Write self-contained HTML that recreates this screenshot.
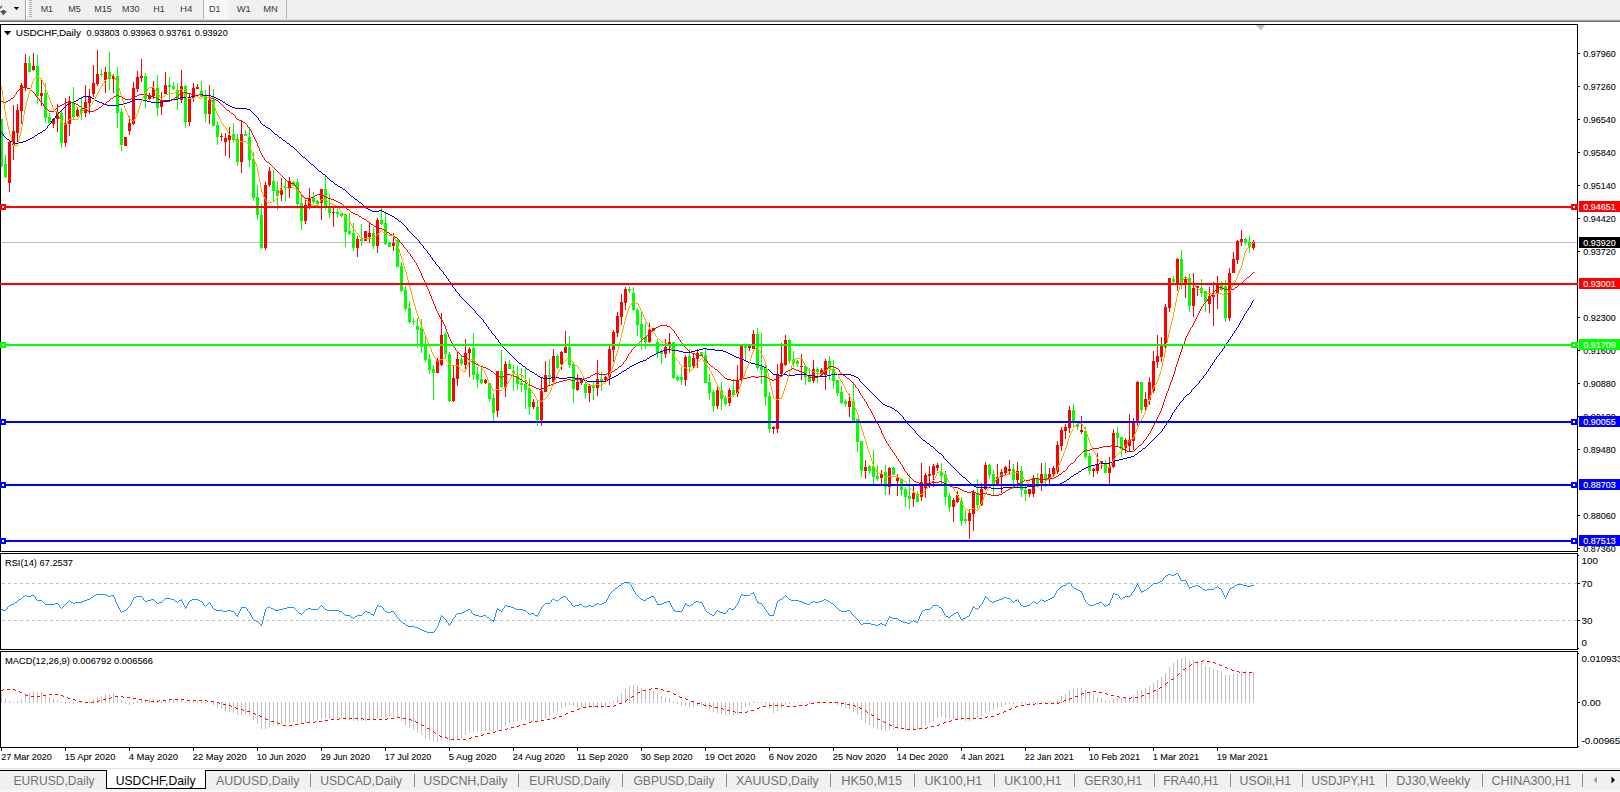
<!DOCTYPE html>
<html><head><meta charset="utf-8"><title>USDCHF,Daily</title>
<style>
html,body{margin:0;padding:0;}
body{width:1620px;height:792px;overflow:hidden;background:#f0f0f0;position:relative;font-family:"Liberation Sans",sans-serif;}
svg{position:absolute;left:0;top:0;}
text{font-family:"Liberation Sans",sans-serif;}
.tb{font-size:9.7px;fill:#3a3a3a;}
.ax{font-size:9.8px;fill:#000;stroke:#000;stroke-width:0.08px;}
.lbw{font-size:9.8px;fill:#fff;stroke:#fff;stroke-width:0.1px;}
.tab{font-size:12.2px;fill:#707070;}
.taba{font-size:12.2px;fill:#000;}
</style></head><body>
<svg width="1620" height="792" viewBox="0 0 1620 792" shape-rendering="crispEdges">

<rect x="0" y="0" width="1620" height="20" fill="#f0f0f0"/>
<rect x="0" y="19" width="1620" height="1" fill="#e2e2e2"/>
<rect x="0" y="20" width="1620" height="1" fill="#a4a4a4"/>
<rect x="0" y="21" width="1620" height="1" fill="#6c6c6c"/>
<rect x="0" y="22" width="1620" height="2" fill="#ffffff"/>
<rect x="25" y="0" width="1" height="20" fill="#a0a0a0"/>
<rect x="26" y="0" width="1" height="20" fill="#ffffff"/>
<rect x="29" y="0" width="3" height="1" fill="#b0b0b0"/>
<rect x="29" y="2" width="3" height="1" fill="#b0b0b0"/>
<rect x="29" y="4" width="3" height="1" fill="#b0b0b0"/>
<rect x="29" y="6" width="3" height="1" fill="#b0b0b0"/>
<rect x="29" y="8" width="3" height="1" fill="#b0b0b0"/>
<rect x="29" y="10" width="3" height="1" fill="#b0b0b0"/>
<rect x="29" y="12" width="3" height="1" fill="#b0b0b0"/>
<rect x="29" y="14" width="3" height="1" fill="#b0b0b0"/>
<rect x="29" y="16" width="3" height="1" fill="#b0b0b0"/>
<rect x="204" y="0" width="24" height="19" fill="#f7f7f7"/>
<rect x="203" y="0" width="1" height="19" fill="#b4b4b4"/>
<rect x="286" y="0" width="1" height="19" fill="#b4b4b4"/>
<path d="M13.8 7 L19.2 7 L16.5 10 Z" fill="#000" shape-rendering="geometricPrecision"/>
<path d="M0 11 L2 11 L2 10 L4.7 10 L4.7 11 L7 11 L3.4 15.2 Z" fill="#505050" shape-rendering="geometricPrecision"/><path d="M0 8.5 L2 5.8" stroke="#505050" stroke-width="1.2" shape-rendering="geometricPrecision"/>
<text class="tb" x="40.7" y="11.6" textLength="12.3" lengthAdjust="spacingAndGlyphs">M1</text>
<text class="tb" x="68.3" y="11.6" textLength="12.5" lengthAdjust="spacingAndGlyphs">M5</text>
<text class="tb" x="94.3" y="11.6" textLength="17.5" lengthAdjust="spacingAndGlyphs">M15</text>
<text class="tb" x="122" y="11.6" textLength="17.5" lengthAdjust="spacingAndGlyphs">M30</text>
<text class="tb" x="153.3" y="11.6" textLength="11.5" lengthAdjust="spacingAndGlyphs">H1</text>
<text class="tb" x="180" y="11.6" textLength="12.5" lengthAdjust="spacingAndGlyphs">H4</text>
<text class="tb" x="209" y="11.6" textLength="11.5" lengthAdjust="spacingAndGlyphs">D1</text>
<text class="tb" x="236.7" y="11.6" textLength="14.0" lengthAdjust="spacingAndGlyphs">W1</text>
<text class="tb" x="263.3" y="11.6" textLength="14.5" lengthAdjust="spacingAndGlyphs">MN</text>
<rect x="0" y="24" width="1620" height="745" fill="#ffffff"/>
<path d="M1256 25 L1265.4 25 L1260.7 30.2 Z" fill="#c0c0c0" shape-rendering="geometricPrecision"/>
<rect x="1" y="242" width="1576" height="1" fill="#c0c0c0"/>
<rect x="1" y="119" width="1" height="48" fill="#00ff00"/><rect x="0" y="119" width="3" height="47" fill="#00ff00"/>
<rect x="5" y="155" width="1" height="23" fill="#00ff00"/><rect x="4" y="164" width="3" height="13" fill="#00ff00"/>
<rect x="9" y="140" width="1" height="52" fill="#ff0000"/><rect x="8" y="142" width="3" height="41" fill="#ff0000"/>
<rect x="13" y="105" width="1" height="55" fill="#ff0000"/><rect x="12" y="131" width="3" height="14" fill="#ff0000"/>
<rect x="17" y="104" width="1" height="38" fill="#ff0000"/><rect x="16" y="110" width="3" height="23" fill="#ff0000"/>
<rect x="21" y="83" width="1" height="41" fill="#ff0000"/><rect x="20" y="85" width="3" height="26" fill="#ff0000"/>
<rect x="25" y="54" width="1" height="37" fill="#ff0000"/><rect x="24" y="63" width="3" height="24" fill="#ff0000"/>
<rect x="29" y="56" width="1" height="16" fill="#00ff00"/><rect x="28" y="63" width="3" height="9" fill="#00ff00"/>
<rect x="33" y="53" width="1" height="18" fill="#ff0000"/><rect x="32" y="66" width="3" height="4" fill="#ff0000"/>
<rect x="37" y="55" width="1" height="49" fill="#00ff00"/><rect x="36" y="66" width="3" height="30" fill="#00ff00"/>
<rect x="41" y="79" width="1" height="27" fill="#ff0000"/><rect x="40" y="93" width="3" height="3" fill="#ff0000"/>
<rect x="45" y="83" width="1" height="40" fill="#00ff00"/><rect x="44" y="93" width="3" height="25" fill="#00ff00"/>
<rect x="49" y="113" width="1" height="12" fill="#00ff00"/><rect x="48" y="117" width="3" height="6" fill="#00ff00"/>
<rect x="53" y="118" width="1" height="10" fill="#ff0000"/><rect x="52" y="119" width="3" height="5" fill="#ff0000"/>
<rect x="57" y="104" width="1" height="28" fill="#ff0000"/><rect x="56" y="112" width="3" height="7" fill="#ff0000"/>
<rect x="61" y="111" width="1" height="37" fill="#00ff00"/><rect x="60" y="113" width="3" height="30" fill="#00ff00"/>
<rect x="65" y="98" width="1" height="49" fill="#ff0000"/><rect x="64" y="123" width="3" height="20" fill="#ff0000"/>
<rect x="69" y="96" width="1" height="40" fill="#ff0000"/><rect x="68" y="101" width="3" height="23" fill="#ff0000"/>
<rect x="73" y="87" width="1" height="33" fill="#00ff00"/><rect x="72" y="103" width="3" height="14" fill="#00ff00"/>
<rect x="77" y="107" width="1" height="10" fill="#ff0000"/><rect x="76" y="110" width="3" height="6" fill="#ff0000"/>
<rect x="81" y="98" width="1" height="22" fill="#00ff00"/><rect x="80" y="109" width="3" height="4" fill="#00ff00"/>
<rect x="85" y="85" width="1" height="32" fill="#ff0000"/><rect x="84" y="102" width="3" height="11" fill="#ff0000"/>
<rect x="89" y="89" width="1" height="25" fill="#ff0000"/><rect x="88" y="96" width="3" height="7" fill="#ff0000"/>
<rect x="93" y="65" width="1" height="32" fill="#ff0000"/><rect x="92" y="83" width="3" height="11" fill="#ff0000"/>
<rect x="97" y="50" width="1" height="36" fill="#ff0000"/><rect x="96" y="74" width="3" height="10" fill="#ff0000"/>
<rect x="101" y="69" width="1" height="8" fill="#00ff00"/><rect x="100" y="74" width="3" height="1" fill="#00ff00"/>
<rect x="105" y="67" width="1" height="26" fill="#ff0000"/><rect x="104" y="72" width="3" height="8" fill="#ff0000"/>
<rect x="109" y="52" width="1" height="38" fill="#00ff00"/><rect x="108" y="72" width="3" height="7" fill="#00ff00"/>
<rect x="113" y="74" width="1" height="19" fill="#ff0000"/><rect x="112" y="76" width="3" height="3" fill="#ff0000"/>
<rect x="117" y="67" width="1" height="61" fill="#00ff00"/><rect x="116" y="76" width="3" height="37" fill="#00ff00"/>
<rect x="121" y="108" width="1" height="43" fill="#00ff00"/><rect x="120" y="112" width="3" height="33" fill="#00ff00"/>
<rect x="125" y="137" width="1" height="9" fill="#ff0000"/><rect x="124" y="137" width="3" height="9" fill="#ff0000"/>
<rect x="129" y="116" width="1" height="19" fill="#ff0000"/><rect x="128" y="123" width="3" height="8" fill="#ff0000"/>
<rect x="133" y="82" width="1" height="43" fill="#ff0000"/><rect x="132" y="88" width="3" height="36" fill="#ff0000"/>
<rect x="137" y="71" width="1" height="21" fill="#ff0000"/><rect x="136" y="77" width="3" height="12" fill="#ff0000"/>
<rect x="141" y="59" width="1" height="23" fill="#ff0000"/><rect x="140" y="76" width="3" height="2" fill="#ff0000"/>
<rect x="145" y="73" width="1" height="35" fill="#00ff00"/><rect x="144" y="76" width="3" height="23" fill="#00ff00"/>
<rect x="149" y="93" width="1" height="7" fill="#ff0000"/><rect x="148" y="95" width="3" height="4" fill="#ff0000"/>
<rect x="153" y="81" width="1" height="18" fill="#ff0000"/><rect x="152" y="88" width="3" height="8" fill="#ff0000"/>
<rect x="157" y="75" width="1" height="41" fill="#00ff00"/><rect x="156" y="88" width="3" height="20" fill="#00ff00"/>
<rect x="161" y="92" width="1" height="23" fill="#ff0000"/><rect x="160" y="100" width="3" height="7" fill="#ff0000"/>
<rect x="165" y="72" width="1" height="22" fill="#ff0000"/><rect x="164" y="85" width="3" height="9" fill="#ff0000"/>
<rect x="169" y="77" width="1" height="23" fill="#00ff00"/><rect x="168" y="85" width="3" height="2" fill="#00ff00"/>
<rect x="173" y="82" width="1" height="8" fill="#00ff00"/><rect x="172" y="86" width="3" height="3" fill="#00ff00"/>
<rect x="177" y="83" width="1" height="27" fill="#00ff00"/><rect x="176" y="90" width="3" height="9" fill="#00ff00"/>
<rect x="181" y="70" width="1" height="33" fill="#ff0000"/><rect x="180" y="86" width="3" height="14" fill="#ff0000"/>
<rect x="185" y="85" width="1" height="43" fill="#00ff00"/><rect x="184" y="86" width="3" height="36" fill="#00ff00"/>
<rect x="189" y="94" width="1" height="32" fill="#ff0000"/><rect x="188" y="98" width="3" height="24" fill="#ff0000"/>
<rect x="193" y="83" width="1" height="19" fill="#ff0000"/><rect x="192" y="88" width="3" height="10" fill="#ff0000"/>
<rect x="197" y="84" width="1" height="5" fill="#ff0000"/><rect x="196" y="87" width="3" height="2" fill="#ff0000"/>
<rect x="201" y="81" width="1" height="16" fill="#00ff00"/><rect x="200" y="91" width="3" height="6" fill="#00ff00"/>
<rect x="205" y="90" width="1" height="32" fill="#00ff00"/><rect x="204" y="96" width="3" height="18" fill="#00ff00"/>
<rect x="209" y="85" width="1" height="39" fill="#ff0000"/><rect x="208" y="100" width="3" height="14" fill="#ff0000"/>
<rect x="213" y="89" width="1" height="37" fill="#00ff00"/><rect x="212" y="100" width="3" height="26" fill="#00ff00"/>
<rect x="217" y="121" width="1" height="24" fill="#00ff00"/><rect x="216" y="125" width="3" height="12" fill="#00ff00"/>
<rect x="221" y="133" width="1" height="8" fill="#ff0000"/><rect x="220" y="136" width="3" height="1" fill="#ff0000"/>
<rect x="225" y="133" width="1" height="23" fill="#ff0000"/><rect x="224" y="138" width="3" height="4" fill="#ff0000"/>
<rect x="229" y="127" width="1" height="31" fill="#ff0000"/><rect x="228" y="135" width="3" height="5" fill="#ff0000"/>
<rect x="233" y="123" width="1" height="20" fill="#00ff00"/><rect x="232" y="134" width="3" height="6" fill="#00ff00"/>
<rect x="237" y="134" width="1" height="32" fill="#00ff00"/><rect x="236" y="139" width="3" height="23" fill="#00ff00"/>
<rect x="241" y="121" width="1" height="52" fill="#ff0000"/><rect x="240" y="134" width="3" height="28" fill="#ff0000"/>
<rect x="245" y="130" width="1" height="6" fill="#00ff00"/><rect x="244" y="134" width="3" height="2" fill="#00ff00"/>
<rect x="249" y="127" width="1" height="40" fill="#00ff00"/><rect x="248" y="137" width="3" height="23" fill="#00ff00"/>
<rect x="253" y="152" width="1" height="49" fill="#00ff00"/><rect x="252" y="159" width="3" height="39" fill="#00ff00"/>
<rect x="257" y="185" width="1" height="35" fill="#00ff00"/><rect x="256" y="197" width="3" height="18" fill="#00ff00"/>
<rect x="261" y="204" width="1" height="45" fill="#00ff00"/><rect x="260" y="215" width="3" height="33" fill="#00ff00"/>
<rect x="265" y="182" width="1" height="68" fill="#ff0000"/><rect x="264" y="185" width="3" height="63" fill="#ff0000"/>
<rect x="269" y="167" width="1" height="20" fill="#ff0000"/><rect x="268" y="171" width="3" height="14" fill="#ff0000"/>
<rect x="273" y="170" width="1" height="32" fill="#00ff00"/><rect x="272" y="181" width="3" height="10" fill="#00ff00"/>
<rect x="277" y="181" width="1" height="29" fill="#00ff00"/><rect x="276" y="190" width="3" height="6" fill="#00ff00"/>
<rect x="281" y="178" width="1" height="23" fill="#ff0000"/><rect x="280" y="190" width="3" height="5" fill="#ff0000"/>
<rect x="285" y="180" width="1" height="21" fill="#00ff00"/><rect x="284" y="187" width="3" height="1" fill="#00ff00"/>
<rect x="289" y="177" width="1" height="21" fill="#ff0000"/><rect x="288" y="181" width="3" height="7" fill="#ff0000"/>
<rect x="293" y="181" width="1" height="5" fill="#00ff00"/><rect x="292" y="182" width="3" height="4" fill="#00ff00"/>
<rect x="297" y="179" width="1" height="30" fill="#00ff00"/><rect x="296" y="182" width="3" height="22" fill="#00ff00"/>
<rect x="301" y="196" width="1" height="34" fill="#00ff00"/><rect x="300" y="203" width="3" height="18" fill="#00ff00"/>
<rect x="305" y="199" width="1" height="25" fill="#ff0000"/><rect x="304" y="205" width="3" height="16" fill="#ff0000"/>
<rect x="309" y="188" width="1" height="21" fill="#ff0000"/><rect x="308" y="198" width="3" height="9" fill="#ff0000"/>
<rect x="313" y="192" width="1" height="12" fill="#00ff00"/><rect x="312" y="198" width="3" height="4" fill="#00ff00"/>
<rect x="317" y="200" width="1" height="5" fill="#00ff00"/><rect x="316" y="201" width="3" height="3" fill="#00ff00"/>
<rect x="321" y="189" width="1" height="31" fill="#ff0000"/><rect x="320" y="189" width="3" height="14" fill="#ff0000"/>
<rect x="325" y="176" width="1" height="34" fill="#00ff00"/><rect x="324" y="189" width="3" height="17" fill="#00ff00"/>
<rect x="329" y="194" width="1" height="24" fill="#00ff00"/><rect x="328" y="207" width="3" height="6" fill="#00ff00"/>
<rect x="333" y="208" width="1" height="19" fill="#ff0000"/><rect x="332" y="212" width="3" height="1" fill="#ff0000"/>
<rect x="337" y="208" width="1" height="10" fill="#00ff00"/><rect x="336" y="212" width="3" height="2" fill="#00ff00"/>
<rect x="341" y="213" width="1" height="4" fill="#00ff00"/><rect x="340" y="213" width="3" height="3" fill="#00ff00"/>
<rect x="345" y="214" width="1" height="33" fill="#00ff00"/><rect x="344" y="214" width="3" height="18" fill="#00ff00"/>
<rect x="349" y="213" width="1" height="22" fill="#00ff00"/><rect x="348" y="231" width="3" height="3" fill="#00ff00"/>
<rect x="353" y="223" width="1" height="28" fill="#00ff00"/><rect x="352" y="233" width="3" height="15" fill="#00ff00"/>
<rect x="357" y="236" width="1" height="21" fill="#ff0000"/><rect x="356" y="239" width="3" height="9" fill="#ff0000"/>
<rect x="361" y="224" width="1" height="22" fill="#00ff00"/><rect x="360" y="239" width="3" height="2" fill="#00ff00"/>
<rect x="365" y="231" width="1" height="10" fill="#ff0000"/><rect x="364" y="231" width="3" height="10" fill="#ff0000"/>
<rect x="369" y="222" width="1" height="21" fill="#ff0000"/><rect x="368" y="233" width="3" height="4" fill="#ff0000"/>
<rect x="373" y="227" width="1" height="22" fill="#00ff00"/><rect x="372" y="233" width="3" height="13" fill="#00ff00"/>
<rect x="377" y="218" width="1" height="35" fill="#ff0000"/><rect x="376" y="220" width="3" height="26" fill="#ff0000"/>
<rect x="381" y="208" width="1" height="17" fill="#00ff00"/><rect x="380" y="220" width="3" height="4" fill="#00ff00"/>
<rect x="385" y="212" width="1" height="33" fill="#00ff00"/><rect x="384" y="223" width="3" height="21" fill="#00ff00"/>
<rect x="389" y="242" width="1" height="5" fill="#00ff00"/><rect x="388" y="242" width="3" height="5" fill="#00ff00"/>
<rect x="393" y="233" width="1" height="18" fill="#ff0000"/><rect x="392" y="243" width="3" height="3" fill="#ff0000"/>
<rect x="397" y="238" width="1" height="29" fill="#00ff00"/><rect x="396" y="240" width="3" height="27" fill="#00ff00"/>
<rect x="401" y="262" width="1" height="30" fill="#00ff00"/><rect x="400" y="266" width="3" height="25" fill="#00ff00"/>
<rect x="405" y="286" width="1" height="25" fill="#00ff00"/><rect x="404" y="290" width="3" height="19" fill="#00ff00"/>
<rect x="409" y="301" width="1" height="23" fill="#00ff00"/><rect x="408" y="308" width="3" height="14" fill="#00ff00"/>
<rect x="413" y="318" width="1" height="7" fill="#00ff00"/><rect x="412" y="321" width="3" height="1" fill="#00ff00"/>
<rect x="417" y="318" width="1" height="30" fill="#00ff00"/><rect x="416" y="326" width="3" height="4" fill="#00ff00"/>
<rect x="421" y="319" width="1" height="34" fill="#00ff00"/><rect x="420" y="328" width="3" height="19" fill="#00ff00"/>
<rect x="425" y="337" width="1" height="25" fill="#00ff00"/><rect x="424" y="345" width="3" height="15" fill="#00ff00"/>
<rect x="429" y="354" width="1" height="20" fill="#00ff00"/><rect x="428" y="359" width="3" height="11" fill="#00ff00"/>
<rect x="433" y="365" width="1" height="35" fill="#00ff00"/><rect x="432" y="369" width="3" height="4" fill="#00ff00"/>
<rect x="437" y="358" width="1" height="15" fill="#ff0000"/><rect x="436" y="361" width="3" height="12" fill="#ff0000"/>
<rect x="441" y="313" width="1" height="53" fill="#ff0000"/><rect x="440" y="335" width="3" height="30" fill="#ff0000"/>
<rect x="445" y="332" width="1" height="26" fill="#00ff00"/><rect x="444" y="334" width="3" height="20" fill="#00ff00"/>
<rect x="449" y="352" width="1" height="50" fill="#00ff00"/><rect x="448" y="354" width="3" height="47" fill="#00ff00"/>
<rect x="453" y="366" width="1" height="36" fill="#ff0000"/><rect x="452" y="378" width="3" height="23" fill="#ff0000"/>
<rect x="457" y="352" width="1" height="34" fill="#ff0000"/><rect x="456" y="359" width="3" height="20" fill="#ff0000"/>
<rect x="461" y="355" width="1" height="11" fill="#00ff00"/><rect x="460" y="359" width="3" height="5" fill="#00ff00"/>
<rect x="465" y="339" width="1" height="30" fill="#ff0000"/><rect x="464" y="353" width="3" height="12" fill="#ff0000"/>
<rect x="469" y="347" width="1" height="30" fill="#ff0000"/><rect x="468" y="349" width="3" height="4" fill="#ff0000"/>
<rect x="473" y="333" width="1" height="47" fill="#00ff00"/><rect x="472" y="348" width="3" height="27" fill="#00ff00"/>
<rect x="477" y="367" width="1" height="21" fill="#00ff00"/><rect x="476" y="374" width="3" height="6" fill="#00ff00"/>
<rect x="481" y="368" width="1" height="16" fill="#00ff00"/><rect x="480" y="379" width="3" height="4" fill="#00ff00"/>
<rect x="485" y="379" width="1" height="5" fill="#ff0000"/><rect x="484" y="380" width="3" height="3" fill="#ff0000"/>
<rect x="489" y="383" width="1" height="19" fill="#00ff00"/><rect x="488" y="383" width="3" height="16" fill="#00ff00"/>
<rect x="493" y="393" width="1" height="28" fill="#00ff00"/><rect x="492" y="398" width="3" height="15" fill="#00ff00"/>
<rect x="497" y="371" width="1" height="46" fill="#ff0000"/><rect x="496" y="371" width="3" height="40" fill="#ff0000"/>
<rect x="501" y="350" width="1" height="38" fill="#00ff00"/><rect x="500" y="371" width="3" height="16" fill="#00ff00"/>
<rect x="505" y="361" width="1" height="36" fill="#ff0000"/><rect x="504" y="364" width="3" height="23" fill="#ff0000"/>
<rect x="509" y="360" width="1" height="9" fill="#00ff00"/><rect x="508" y="364" width="3" height="5" fill="#00ff00"/>
<rect x="513" y="365" width="1" height="26" fill="#00ff00"/><rect x="512" y="371" width="3" height="2" fill="#00ff00"/>
<rect x="517" y="366" width="1" height="24" fill="#00ff00"/><rect x="516" y="376" width="3" height="8" fill="#00ff00"/>
<rect x="521" y="368" width="1" height="24" fill="#00ff00"/><rect x="520" y="383" width="3" height="2" fill="#00ff00"/>
<rect x="525" y="368" width="1" height="41" fill="#00ff00"/><rect x="524" y="384" width="3" height="6" fill="#00ff00"/>
<rect x="529" y="378" width="1" height="37" fill="#00ff00"/><rect x="528" y="388" width="3" height="19" fill="#00ff00"/>
<rect x="533" y="399" width="1" height="10" fill="#ff0000"/><rect x="532" y="402" width="3" height="5" fill="#ff0000"/>
<rect x="537" y="401" width="1" height="25" fill="#00ff00"/><rect x="536" y="407" width="3" height="13" fill="#00ff00"/>
<rect x="541" y="378" width="1" height="48" fill="#ff0000"/><rect x="540" y="391" width="3" height="29" fill="#ff0000"/>
<rect x="545" y="361" width="1" height="31" fill="#ff0000"/><rect x="544" y="375" width="3" height="17" fill="#ff0000"/>
<rect x="549" y="359" width="1" height="27" fill="#00ff00"/><rect x="548" y="375" width="3" height="2" fill="#00ff00"/>
<rect x="553" y="349" width="1" height="34" fill="#ff0000"/><rect x="552" y="356" width="3" height="26" fill="#ff0000"/>
<rect x="557" y="354" width="1" height="15" fill="#00ff00"/><rect x="556" y="356" width="3" height="12" fill="#00ff00"/>
<rect x="561" y="351" width="1" height="19" fill="#ff0000"/><rect x="560" y="352" width="3" height="12" fill="#ff0000"/>
<rect x="565" y="331" width="1" height="22" fill="#ff0000"/><rect x="564" y="347" width="3" height="6" fill="#ff0000"/>
<rect x="569" y="336" width="1" height="32" fill="#00ff00"/><rect x="568" y="347" width="3" height="18" fill="#00ff00"/>
<rect x="573" y="362" width="1" height="41" fill="#00ff00"/><rect x="572" y="364" width="3" height="25" fill="#00ff00"/>
<rect x="577" y="374" width="1" height="17" fill="#ff0000"/><rect x="576" y="382" width="3" height="8" fill="#ff0000"/>
<rect x="581" y="378" width="1" height="7" fill="#ff0000"/><rect x="580" y="379" width="3" height="4" fill="#ff0000"/>
<rect x="585" y="382" width="1" height="17" fill="#00ff00"/><rect x="584" y="384" width="3" height="9" fill="#00ff00"/>
<rect x="589" y="384" width="1" height="18" fill="#ff0000"/><rect x="588" y="386" width="3" height="7" fill="#ff0000"/>
<rect x="593" y="382" width="1" height="18" fill="#00ff00"/><rect x="592" y="386" width="3" height="2" fill="#00ff00"/>
<rect x="597" y="360" width="1" height="36" fill="#ff0000"/><rect x="596" y="379" width="3" height="9" fill="#ff0000"/>
<rect x="601" y="372" width="1" height="19" fill="#00ff00"/><rect x="600" y="379" width="3" height="3" fill="#00ff00"/>
<rect x="605" y="376" width="1" height="7" fill="#ff0000"/><rect x="604" y="377" width="3" height="3" fill="#ff0000"/>
<rect x="609" y="346" width="1" height="39" fill="#ff0000"/><rect x="608" y="349" width="3" height="28" fill="#ff0000"/>
<rect x="613" y="330" width="1" height="32" fill="#ff0000"/><rect x="612" y="332" width="3" height="18" fill="#ff0000"/>
<rect x="617" y="312" width="1" height="25" fill="#ff0000"/><rect x="616" y="316" width="3" height="17" fill="#ff0000"/>
<rect x="621" y="294" width="1" height="31" fill="#ff0000"/><rect x="620" y="302" width="3" height="15" fill="#ff0000"/>
<rect x="625" y="287" width="1" height="23" fill="#ff0000"/><rect x="624" y="289" width="3" height="14" fill="#ff0000"/>
<rect x="629" y="287" width="1" height="6" fill="#00ff00"/><rect x="628" y="289" width="3" height="2" fill="#00ff00"/>
<rect x="633" y="287" width="1" height="24" fill="#00ff00"/><rect x="632" y="293" width="3" height="17" fill="#00ff00"/>
<rect x="637" y="308" width="1" height="28" fill="#00ff00"/><rect x="636" y="310" width="3" height="15" fill="#00ff00"/>
<rect x="641" y="312" width="1" height="38" fill="#00ff00"/><rect x="640" y="324" width="3" height="14" fill="#00ff00"/>
<rect x="645" y="322" width="1" height="27" fill="#00ff00"/><rect x="644" y="337" width="3" height="5" fill="#00ff00"/>
<rect x="649" y="323" width="1" height="20" fill="#ff0000"/><rect x="648" y="330" width="3" height="12" fill="#ff0000"/>
<rect x="653" y="328" width="1" height="3" fill="#ff0000"/><rect x="652" y="328" width="3" height="3" fill="#ff0000"/>
<rect x="657" y="339" width="1" height="19" fill="#00ff00"/><rect x="656" y="342" width="3" height="11" fill="#00ff00"/>
<rect x="661" y="349" width="1" height="15" fill="#00ff00"/><rect x="660" y="352" width="3" height="2" fill="#00ff00"/>
<rect x="665" y="339" width="1" height="19" fill="#ff0000"/><rect x="664" y="347" width="3" height="7" fill="#ff0000"/>
<rect x="669" y="333" width="1" height="20" fill="#ff0000"/><rect x="668" y="342" width="3" height="4" fill="#ff0000"/>
<rect x="673" y="342" width="1" height="37" fill="#00ff00"/><rect x="672" y="342" width="3" height="36" fill="#00ff00"/>
<rect x="677" y="375" width="1" height="6" fill="#00ff00"/><rect x="676" y="377" width="3" height="3" fill="#00ff00"/>
<rect x="681" y="367" width="1" height="18" fill="#00ff00"/><rect x="680" y="377" width="3" height="3" fill="#00ff00"/>
<rect x="685" y="355" width="1" height="31" fill="#ff0000"/><rect x="684" y="357" width="3" height="23" fill="#ff0000"/>
<rect x="689" y="349" width="1" height="24" fill="#00ff00"/><rect x="688" y="356" width="3" height="11" fill="#00ff00"/>
<rect x="693" y="353" width="1" height="15" fill="#ff0000"/><rect x="692" y="358" width="3" height="8" fill="#ff0000"/>
<rect x="697" y="349" width="1" height="19" fill="#ff0000"/><rect x="696" y="353" width="3" height="6" fill="#ff0000"/>
<rect x="701" y="352" width="1" height="4" fill="#00ff00"/><rect x="700" y="352" width="3" height="4" fill="#00ff00"/>
<rect x="705" y="348" width="1" height="35" fill="#00ff00"/><rect x="704" y="355" width="3" height="28" fill="#00ff00"/>
<rect x="709" y="374" width="1" height="26" fill="#00ff00"/><rect x="708" y="382" width="3" height="11" fill="#00ff00"/>
<rect x="713" y="390" width="1" height="22" fill="#00ff00"/><rect x="712" y="392" width="3" height="14" fill="#00ff00"/>
<rect x="717" y="387" width="1" height="22" fill="#ff0000"/><rect x="716" y="390" width="3" height="16" fill="#ff0000"/>
<rect x="721" y="382" width="1" height="28" fill="#00ff00"/><rect x="720" y="390" width="3" height="9" fill="#00ff00"/>
<rect x="725" y="396" width="1" height="10" fill="#00ff00"/><rect x="724" y="398" width="3" height="6" fill="#00ff00"/>
<rect x="729" y="388" width="1" height="18" fill="#ff0000"/><rect x="728" y="390" width="3" height="13" fill="#ff0000"/>
<rect x="733" y="379" width="1" height="18" fill="#00ff00"/><rect x="732" y="390" width="3" height="5" fill="#00ff00"/>
<rect x="737" y="365" width="1" height="32" fill="#ff0000"/><rect x="736" y="380" width="3" height="14" fill="#ff0000"/>
<rect x="741" y="344" width="1" height="38" fill="#ff0000"/><rect x="740" y="344" width="3" height="36" fill="#ff0000"/>
<rect x="745" y="344" width="1" height="16" fill="#00ff00"/><rect x="744" y="344" width="3" height="4" fill="#00ff00"/>
<rect x="749" y="346" width="1" height="5" fill="#ff0000"/><rect x="748" y="346" width="3" height="2" fill="#ff0000"/>
<rect x="753" y="330" width="1" height="19" fill="#ff0000"/><rect x="752" y="334" width="3" height="15" fill="#ff0000"/>
<rect x="757" y="328" width="1" height="42" fill="#00ff00"/><rect x="756" y="334" width="3" height="34" fill="#00ff00"/>
<rect x="761" y="333" width="1" height="51" fill="#00ff00"/><rect x="760" y="367" width="3" height="3" fill="#00ff00"/>
<rect x="765" y="363" width="1" height="43" fill="#00ff00"/><rect x="764" y="368" width="3" height="29" fill="#00ff00"/>
<rect x="769" y="392" width="1" height="41" fill="#00ff00"/><rect x="768" y="396" width="3" height="33" fill="#00ff00"/>
<rect x="773" y="426" width="1" height="8" fill="#ff0000"/><rect x="772" y="427" width="3" height="2" fill="#ff0000"/>
<rect x="777" y="364" width="1" height="69" fill="#ff0000"/><rect x="776" y="374" width="3" height="55" fill="#ff0000"/>
<rect x="781" y="343" width="1" height="32" fill="#ff0000"/><rect x="780" y="363" width="3" height="11" fill="#ff0000"/>
<rect x="785" y="335" width="1" height="31" fill="#ff0000"/><rect x="784" y="340" width="3" height="25" fill="#ff0000"/>
<rect x="789" y="339" width="1" height="25" fill="#00ff00"/><rect x="788" y="340" width="3" height="21" fill="#00ff00"/>
<rect x="793" y="351" width="1" height="16" fill="#00ff00"/><rect x="792" y="360" width="3" height="3" fill="#00ff00"/>
<rect x="797" y="360" width="1" height="7" fill="#00ff00"/><rect x="796" y="361" width="3" height="3" fill="#00ff00"/>
<rect x="801" y="354" width="1" height="26" fill="#ff0000"/><rect x="800" y="366" width="3" height="1" fill="#ff0000"/>
<rect x="805" y="366" width="1" height="19" fill="#00ff00"/><rect x="804" y="366" width="3" height="11" fill="#00ff00"/>
<rect x="809" y="368" width="1" height="14" fill="#00ff00"/><rect x="808" y="376" width="3" height="6" fill="#00ff00"/>
<rect x="813" y="360" width="1" height="23" fill="#ff0000"/><rect x="812" y="369" width="3" height="12" fill="#ff0000"/>
<rect x="817" y="367" width="1" height="16" fill="#00ff00"/><rect x="816" y="369" width="3" height="3" fill="#00ff00"/>
<rect x="821" y="368" width="1" height="7" fill="#ff0000"/><rect x="820" y="370" width="3" height="4" fill="#ff0000"/>
<rect x="825" y="359" width="1" height="31" fill="#ff0000"/><rect x="824" y="361" width="3" height="14" fill="#ff0000"/>
<rect x="829" y="356" width="1" height="24" fill="#00ff00"/><rect x="828" y="361" width="3" height="8" fill="#00ff00"/>
<rect x="833" y="360" width="1" height="29" fill="#00ff00"/><rect x="832" y="369" width="3" height="12" fill="#00ff00"/>
<rect x="837" y="380" width="1" height="16" fill="#00ff00"/><rect x="836" y="380" width="3" height="13" fill="#00ff00"/>
<rect x="841" y="386" width="1" height="18" fill="#00ff00"/><rect x="840" y="392" width="3" height="11" fill="#00ff00"/>
<rect x="845" y="399" width="1" height="8" fill="#00ff00"/><rect x="844" y="401" width="3" height="3" fill="#00ff00"/>
<rect x="849" y="394" width="1" height="23" fill="#ff0000"/><rect x="848" y="401" width="3" height="6" fill="#ff0000"/>
<rect x="853" y="382" width="1" height="39" fill="#00ff00"/><rect x="852" y="401" width="3" height="20" fill="#00ff00"/>
<rect x="857" y="419" width="1" height="33" fill="#00ff00"/><rect x="856" y="419" width="3" height="23" fill="#00ff00"/>
<rect x="861" y="441" width="1" height="36" fill="#00ff00"/><rect x="860" y="441" width="3" height="30" fill="#00ff00"/>
<rect x="865" y="460" width="1" height="19" fill="#ff0000"/><rect x="864" y="467" width="3" height="4" fill="#ff0000"/>
<rect x="869" y="465" width="1" height="8" fill="#00ff00"/><rect x="868" y="466" width="3" height="5" fill="#00ff00"/>
<rect x="873" y="450" width="1" height="34" fill="#00ff00"/><rect x="872" y="466" width="3" height="11" fill="#00ff00"/>
<rect x="877" y="465" width="1" height="16" fill="#00ff00"/><rect x="876" y="476" width="3" height="3" fill="#00ff00"/>
<rect x="881" y="470" width="1" height="14" fill="#ff0000"/><rect x="880" y="474" width="3" height="4" fill="#ff0000"/>
<rect x="885" y="465" width="1" height="30" fill="#00ff00"/><rect x="884" y="472" width="3" height="15" fill="#00ff00"/>
<rect x="889" y="467" width="1" height="28" fill="#ff0000"/><rect x="888" y="468" width="3" height="19" fill="#ff0000"/>
<rect x="893" y="467" width="1" height="8" fill="#00ff00"/><rect x="892" y="468" width="3" height="7" fill="#00ff00"/>
<rect x="897" y="474" width="1" height="22" fill="#ff0000"/><rect x="896" y="478" width="3" height="3" fill="#ff0000"/>
<rect x="901" y="478" width="1" height="18" fill="#00ff00"/><rect x="900" y="479" width="3" height="11" fill="#00ff00"/>
<rect x="905" y="487" width="1" height="20" fill="#00ff00"/><rect x="904" y="489" width="3" height="8" fill="#00ff00"/>
<rect x="909" y="474" width="1" height="35" fill="#00ff00"/><rect x="908" y="496" width="3" height="3" fill="#00ff00"/>
<rect x="913" y="486" width="1" height="21" fill="#ff0000"/><rect x="912" y="493" width="3" height="6" fill="#ff0000"/>
<rect x="917" y="491" width="1" height="11" fill="#00ff00"/><rect x="916" y="494" width="3" height="8" fill="#00ff00"/>
<rect x="921" y="463" width="1" height="38" fill="#ff0000"/><rect x="920" y="482" width="3" height="15" fill="#ff0000"/>
<rect x="925" y="473" width="1" height="25" fill="#ff0000"/><rect x="924" y="475" width="3" height="13" fill="#ff0000"/>
<rect x="929" y="466" width="1" height="22" fill="#ff0000"/><rect x="928" y="474" width="3" height="2" fill="#ff0000"/>
<rect x="933" y="464" width="1" height="23" fill="#ff0000"/><rect x="932" y="466" width="3" height="9" fill="#ff0000"/>
<rect x="937" y="463" width="1" height="8" fill="#ff0000"/><rect x="936" y="465" width="3" height="3" fill="#ff0000"/>
<rect x="941" y="463" width="1" height="21" fill="#00ff00"/><rect x="940" y="472" width="3" height="4" fill="#00ff00"/>
<rect x="945" y="471" width="1" height="34" fill="#00ff00"/><rect x="944" y="475" width="3" height="22" fill="#00ff00"/>
<rect x="949" y="493" width="1" height="19" fill="#00ff00"/><rect x="948" y="496" width="3" height="11" fill="#00ff00"/>
<rect x="953" y="498" width="1" height="24" fill="#ff0000"/><rect x="952" y="500" width="3" height="7" fill="#ff0000"/>
<rect x="957" y="491" width="1" height="12" fill="#ff0000"/><rect x="956" y="495" width="3" height="7" fill="#ff0000"/>
<rect x="961" y="497" width="1" height="29" fill="#00ff00"/><rect x="960" y="501" width="3" height="20" fill="#00ff00"/>
<rect x="965" y="510" width="1" height="14" fill="#00ff00"/><rect x="964" y="519" width="3" height="2" fill="#00ff00"/>
<rect x="969" y="509" width="1" height="30" fill="#ff0000"/><rect x="968" y="513" width="3" height="8" fill="#ff0000"/>
<rect x="973" y="490" width="1" height="41" fill="#ff0000"/><rect x="972" y="492" width="3" height="22" fill="#ff0000"/>
<rect x="977" y="479" width="1" height="30" fill="#00ff00"/><rect x="976" y="493" width="3" height="12" fill="#00ff00"/>
<rect x="981" y="483" width="1" height="23" fill="#ff0000"/><rect x="980" y="489" width="3" height="16" fill="#ff0000"/>
<rect x="985" y="462" width="1" height="28" fill="#ff0000"/><rect x="984" y="465" width="3" height="24" fill="#ff0000"/>
<rect x="989" y="464" width="1" height="15" fill="#00ff00"/><rect x="988" y="465" width="3" height="10" fill="#00ff00"/>
<rect x="993" y="470" width="1" height="25" fill="#00ff00"/><rect x="992" y="474" width="3" height="10" fill="#00ff00"/>
<rect x="997" y="464" width="1" height="21" fill="#ff0000"/><rect x="996" y="477" width="3" height="7" fill="#ff0000"/>
<rect x="1001" y="469" width="1" height="24" fill="#ff0000"/><rect x="1000" y="472" width="3" height="5" fill="#ff0000"/>
<rect x="1005" y="466" width="1" height="10" fill="#ff0000"/><rect x="1004" y="467" width="3" height="6" fill="#ff0000"/>
<rect x="1009" y="460" width="1" height="14" fill="#ff0000"/><rect x="1008" y="469" width="3" height="2" fill="#ff0000"/>
<rect x="1013" y="464" width="1" height="25" fill="#00ff00"/><rect x="1012" y="469" width="3" height="11" fill="#00ff00"/>
<rect x="1017" y="462" width="1" height="25" fill="#ff0000"/><rect x="1016" y="471" width="3" height="9" fill="#ff0000"/>
<rect x="1021" y="466" width="1" height="31" fill="#00ff00"/><rect x="1020" y="471" width="3" height="19" fill="#00ff00"/>
<rect x="1025" y="486" width="1" height="15" fill="#00ff00"/><rect x="1024" y="490" width="3" height="4" fill="#00ff00"/>
<rect x="1029" y="489" width="1" height="8" fill="#ff0000"/><rect x="1028" y="489" width="3" height="5" fill="#ff0000"/>
<rect x="1033" y="475" width="1" height="22" fill="#ff0000"/><rect x="1032" y="478" width="3" height="16" fill="#ff0000"/>
<rect x="1037" y="473" width="1" height="15" fill="#00ff00"/><rect x="1036" y="479" width="3" height="8" fill="#00ff00"/>
<rect x="1041" y="463" width="1" height="28" fill="#ff0000"/><rect x="1040" y="474" width="3" height="9" fill="#ff0000"/>
<rect x="1045" y="463" width="1" height="24" fill="#00ff00"/><rect x="1044" y="474" width="3" height="5" fill="#00ff00"/>
<rect x="1049" y="468" width="1" height="16" fill="#ff0000"/><rect x="1048" y="474" width="3" height="4" fill="#ff0000"/>
<rect x="1053" y="466" width="1" height="10" fill="#ff0000"/><rect x="1052" y="468" width="3" height="6" fill="#ff0000"/>
<rect x="1057" y="441" width="1" height="33" fill="#ff0000"/><rect x="1056" y="445" width="3" height="27" fill="#ff0000"/>
<rect x="1061" y="427" width="1" height="24" fill="#ff0000"/><rect x="1060" y="430" width="3" height="16" fill="#ff0000"/>
<rect x="1065" y="424" width="1" height="15" fill="#ff0000"/><rect x="1064" y="427" width="3" height="4" fill="#ff0000"/>
<rect x="1069" y="406" width="1" height="27" fill="#ff0000"/><rect x="1068" y="410" width="3" height="18" fill="#ff0000"/>
<rect x="1073" y="404" width="1" height="23" fill="#00ff00"/><rect x="1072" y="410" width="3" height="13" fill="#00ff00"/>
<rect x="1077" y="423" width="1" height="7" fill="#00ff00"/><rect x="1076" y="424" width="3" height="3" fill="#00ff00"/>
<rect x="1081" y="416" width="1" height="18" fill="#ff0000"/><rect x="1080" y="430" width="3" height="2" fill="#ff0000"/>
<rect x="1085" y="427" width="1" height="32" fill="#00ff00"/><rect x="1084" y="431" width="3" height="26" fill="#00ff00"/>
<rect x="1089" y="453" width="1" height="22" fill="#00ff00"/><rect x="1088" y="456" width="3" height="15" fill="#00ff00"/>
<rect x="1093" y="468" width="1" height="9" fill="#ff0000"/><rect x="1092" y="469" width="3" height="2" fill="#ff0000"/>
<rect x="1097" y="453" width="1" height="21" fill="#ff0000"/><rect x="1096" y="464" width="3" height="7" fill="#ff0000"/>
<rect x="1101" y="461" width="1" height="8" fill="#ff0000"/><rect x="1100" y="461" width="3" height="2" fill="#ff0000"/>
<rect x="1105" y="460" width="1" height="13" fill="#00ff00"/><rect x="1104" y="464" width="3" height="9" fill="#00ff00"/>
<rect x="1109" y="457" width="1" height="27" fill="#ff0000"/><rect x="1108" y="467" width="3" height="6" fill="#ff0000"/>
<rect x="1113" y="429" width="1" height="39" fill="#ff0000"/><rect x="1112" y="433" width="3" height="34" fill="#ff0000"/>
<rect x="1117" y="427" width="1" height="19" fill="#00ff00"/><rect x="1116" y="433" width="3" height="5" fill="#00ff00"/>
<rect x="1121" y="437" width="1" height="20" fill="#00ff00"/><rect x="1120" y="437" width="3" height="12" fill="#00ff00"/>
<rect x="1125" y="438" width="1" height="15" fill="#ff0000"/><rect x="1124" y="440" width="3" height="8" fill="#ff0000"/>
<rect x="1129" y="414" width="1" height="37" fill="#ff0000"/><rect x="1128" y="440" width="3" height="6" fill="#ff0000"/>
<rect x="1133" y="418" width="1" height="32" fill="#ff0000"/><rect x="1132" y="423" width="3" height="18" fill="#ff0000"/>
<rect x="1137" y="381" width="1" height="45" fill="#ff0000"/><rect x="1136" y="382" width="3" height="41" fill="#ff0000"/>
<rect x="1141" y="382" width="1" height="31" fill="#00ff00"/><rect x="1140" y="382" width="3" height="28" fill="#00ff00"/>
<rect x="1145" y="392" width="1" height="18" fill="#ff0000"/><rect x="1144" y="399" width="3" height="8" fill="#ff0000"/>
<rect x="1149" y="377" width="1" height="28" fill="#ff0000"/><rect x="1148" y="382" width="3" height="18" fill="#ff0000"/>
<rect x="1153" y="351" width="1" height="42" fill="#ff0000"/><rect x="1152" y="361" width="3" height="30" fill="#ff0000"/>
<rect x="1157" y="335" width="1" height="33" fill="#ff0000"/><rect x="1156" y="356" width="3" height="6" fill="#ff0000"/>
<rect x="1161" y="337" width="1" height="25" fill="#ff0000"/><rect x="1160" y="346" width="3" height="11" fill="#ff0000"/>
<rect x="1165" y="304" width="1" height="44" fill="#ff0000"/><rect x="1164" y="307" width="3" height="40" fill="#ff0000"/>
<rect x="1169" y="278" width="1" height="34" fill="#ff0000"/><rect x="1168" y="278" width="3" height="30" fill="#ff0000"/>
<rect x="1173" y="276" width="1" height="7" fill="#00ff00"/><rect x="1172" y="279" width="3" height="3" fill="#00ff00"/>
<rect x="1177" y="258" width="1" height="33" fill="#ff0000"/><rect x="1176" y="259" width="3" height="26" fill="#ff0000"/>
<rect x="1181" y="250" width="1" height="39" fill="#00ff00"/><rect x="1180" y="259" width="3" height="24" fill="#00ff00"/>
<rect x="1185" y="277" width="1" height="21" fill="#ff0000"/><rect x="1184" y="279" width="3" height="4" fill="#ff0000"/>
<rect x="1189" y="274" width="1" height="38" fill="#00ff00"/><rect x="1188" y="278" width="3" height="28" fill="#00ff00"/>
<rect x="1193" y="273" width="1" height="44" fill="#ff0000"/><rect x="1192" y="288" width="3" height="18" fill="#ff0000"/>
<rect x="1197" y="286" width="1" height="10" fill="#ff0000"/><rect x="1196" y="286" width="3" height="2" fill="#ff0000"/>
<rect x="1201" y="279" width="1" height="18" fill="#00ff00"/><rect x="1200" y="288" width="3" height="5" fill="#00ff00"/>
<rect x="1205" y="291" width="1" height="21" fill="#00ff00"/><rect x="1204" y="291" width="3" height="11" fill="#00ff00"/>
<rect x="1209" y="287" width="1" height="26" fill="#ff0000"/><rect x="1208" y="296" width="3" height="8" fill="#ff0000"/>
<rect x="1213" y="282" width="1" height="44" fill="#ff0000"/><rect x="1212" y="294" width="3" height="3" fill="#ff0000"/>
<rect x="1217" y="276" width="1" height="33" fill="#ff0000"/><rect x="1216" y="283" width="3" height="10" fill="#ff0000"/>
<rect x="1221" y="281" width="1" height="10" fill="#00ff00"/><rect x="1220" y="285" width="3" height="5" fill="#00ff00"/>
<rect x="1225" y="280" width="1" height="42" fill="#00ff00"/><rect x="1224" y="286" width="3" height="32" fill="#00ff00"/>
<rect x="1229" y="268" width="1" height="53" fill="#ff0000"/><rect x="1228" y="273" width="3" height="45" fill="#ff0000"/>
<rect x="1233" y="252" width="1" height="21" fill="#ff0000"/><rect x="1232" y="259" width="3" height="14" fill="#ff0000"/>
<rect x="1237" y="240" width="1" height="24" fill="#ff0000"/><rect x="1236" y="241" width="3" height="19" fill="#ff0000"/>
<rect x="1241" y="230" width="1" height="16" fill="#ff0000"/><rect x="1240" y="239" width="3" height="3" fill="#ff0000"/>
<rect x="1245" y="238" width="1" height="7" fill="#00ff00"/><rect x="1244" y="239" width="3" height="4" fill="#00ff00"/>
<rect x="1249" y="236" width="1" height="17" fill="#00ff00"/><rect x="1248" y="242" width="3" height="5" fill="#00ff00"/>
<rect x="1253" y="240" width="1" height="10" fill="#ff0000"/><rect x="1252" y="242" width="3" height="6" fill="#ff0000"/>
<path d="M448.5 279v2M1219.5 353v2M1252.5 301v2M903.5 417v2M1248.5 308v2M495.5 336v2M435.5 262v2M446.5 276v2M450.5 282v2M260.5 121v2M1203.5 376v2M475.5 311v2M1164.5 426v2M55.5 116v2M1234.5 331v2M1230.5 337v2M452.5 285v2M859.5 379v2M1162.5 429v2M419.5 241v2M907.5 422v2M1244.5 314v2M1240.5 321v2M1208.5 369v2M943.5 456v2M491.5 331v2M1243.5 316v2M1191.5 390v2M432.5 258v2M1172.5 413v2M1239.5 323v2M1168.5 420v2M1238.5 325v2M47.5 126v2M423.5 246v2M1222.5 349v2M459.5 294v2M1212.5 363v2M1228.5 340v2M483.5 320v2M439.5 267v2M455.5 289v2M1236.5 328v2M1232.5 334v2M443.5 272v2M1226.5 343v2M1183.5 398v2M1246.5 311v2M430.5 255v2M1210.5 366v2M1242.5 318v2M1206.5 372v2M915.5 431v2M407.5 228v2M258.5 118v2M3.5 134v2M498.5 340v2M1251.5 303v2M500.5 343v2M1174.5 410v2M427.5 251v2M1166.5 423v2M488.5 327v2M1216.5 357v2M1176.5 407v2M1250.5 305v2M1199.5 381v2M1214.5 360v2M1171.5 415v2M1170.5 417v2M1224.5 346v2M486.5 324v2M1179.5 403v2M51.5 121v2M434 261.5h1M501 345.5h1M1225 345.5h1M959 473.5h1M1076 473.5h2M444 274.5h1M991 488.5h12M512 356.5h1M650 356.5h2M734 356.5h2M1217 356.5h1M71 102.5h3M99 102.5h3M127 102.5h3M151 102.5h12M223 102.5h2M15 143.5h4M287 143.5h2M37 134.5h1M275 134.5h2M508 352.5h1M658 352.5h2M683 352.5h8M726 352.5h2M1220 352.5h1M464 300.5h1M1253 300.5h1M348 193.5h1M58 113.5h1M253 113.5h1M526 368.5h1M627 368.5h2M766 368.5h1M1209 368.5h1M473 309.5h1M867 388.5h1M1193 388.5h1M76 100.5h2M95 100.5h2M132 100.5h3M143 100.5h4M167 100.5h4M220 100.5h2M519 363.5h2M636 363.5h2M751 363.5h4M53 119.5h1M587 381.5h19M860 381.5h1M471 307.5h1M1249 307.5h1M69 103.5h2M102 103.5h2M123 103.5h4M225 103.5h1M537 375.5h1M616 375.5h2M779 375.5h4M787 375.5h8M807 375.5h8M827 375.5h4M851 375.5h3M1204 375.5h1M538 376.5h2M614 376.5h2M815 376.5h12M854 376.5h2M78 99.5h1M94 99.5h1M135 99.5h8M171 99.5h7M218 99.5h2M873 394.5h1M1187 394.5h2M543 378.5h8M559 378.5h8M575 378.5h7M610 378.5h2M858 378.5h1M1202 378.5h1M195 95.5h4M203 95.5h8M510 354.5h1M654 354.5h2M730 354.5h2M532 372.5h2M621 372.5h1M771 372.5h1M869 390.5h1M535 374.5h2M618 374.5h1M773 374.5h6M783 374.5h4M795 374.5h12M831 374.5h20M1205 374.5h1M968 481.5h1M1064 481.5h2M81 97.5h2M90 97.5h2M180 97.5h11M214 97.5h2M65 106.5h1M230 106.5h2M415 237.5h1M976 487.5h15M1003 487.5h24M938 452.5h1M1138 452.5h1M63 108.5h1M235 108.5h12M973 485.5h1M1035 485.5h23M66 105.5h1M107 105.5h12M228 105.5h2M507 351.5h1M660 351.5h3M679 351.5h4M691 351.5h4M723 351.5h3M1221 351.5h1M966 479.5h1M1067 479.5h2M395 218.5h2M9 140.5h1M26 140.5h2M283 140.5h2M295 149.5h1M521 364.5h1M634 364.5h2M755 364.5h4M1161 431.5h1M265 126.5h1M266 127.5h2M79 98.5h2M92 98.5h2M178 98.5h2M216 98.5h2M947 461.5h1M1112 461.5h3M494 335.5h1M447 278.5h1M294 148.5h1M406 227.5h1M62 109.5h1M247 109.5h3M506 350.5h1M663 350.5h4M671 350.5h8M695 350.5h4M715 350.5h8M522 365.5h1M632 365.5h2M759 365.5h3M1211 365.5h1M527 369.5h2M626 369.5h1M767 369.5h2M941 454.5h1M1135 454.5h2M461 297.5h1M518 362.5h1M638 362.5h2M748 362.5h3M1213 362.5h1M43 130.5h2M271 130.5h1M505 349.5h1M667 349.5h4M699 349.5h4M707 349.5h8M2 133.5h1M38 133.5h2M274 133.5h1M484 322.5h1M338 186.5h2M513 357.5h1M649 357.5h1M736 357.5h3M1231 336.5h1M83 96.5h7M191 96.5h4M211 96.5h3M257 117.5h1M390 215.5h2M5 137.5h1M32 137.5h2M279 137.5h2M516 360.5h1M643 360.5h3M744 360.5h2M372 211.5h7M382 211.5h2M291 146.5h2M12 142.5h3M19 142.5h4M286 142.5h1M540 377.5h3M551 377.5h8M567 377.5h8M612 377.5h2M856 377.5h2M392 216.5h2M74 101.5h2M97 101.5h2M130 101.5h2M147 101.5h4M163 101.5h4M222 101.5h1M50 123.5h1M261 123.5h1M969 482.5h1M1062 482.5h2M384 212.5h2M424 248.5h1M476 313.5h1M1245 313.5h1M960 474.5h1M1074 474.5h2M425 249.5h1M504 348.5h1M703 348.5h4M1223 348.5h1M1131 456.5h3M368 209.5h2M934 448.5h1M1143 448.5h2M301 155.5h1M311 164.5h2M1 132.5h1M40 132.5h2M273 132.5h1M951 465.5h1M1091 465.5h4M290 145.5h1M313 165.5h1M523 366.5h2M630 366.5h2M762 366.5h2M871 392.5h1M1190 392.5h1M468 304.5h1M902 416.5h1M872 393.5h1M1189 393.5h1M949 463.5h1M1099 463.5h11M935 449.5h1M1142 449.5h1M945 459.5h1M1119 459.5h4M971 484.5h2M1058 484.5h2M962 476.5h1M1071 476.5h2M514 358.5h1M647 358.5h2M739 358.5h3M515 359.5h1M646 359.5h1M742 359.5h2M1215 359.5h1M334 183.5h1M10 141.5h2M23 141.5h3M285 141.5h1M67 104.5h2M104 104.5h3M119 104.5h4M226 104.5h2M925 441.5h1M1151 441.5h1M467 303.5h1M952 466.5h1M1088 466.5h3M409 231.5h1M901 415.5h1M946 460.5h1M1115 460.5h4M497 339.5h1M1229 339.5h1M307 160.5h1M408 230.5h1M912 428.5h1M1163 428.5h1M308 161.5h1M974 486.5h2M1027 486.5h8M917 434.5h1M1158 434.5h1M919 436.5h1M1156 436.5h1M930 445.5h1M1147 445.5h1M954 468.5h1M1084 468.5h2M4 136.5h1M34 136.5h1M278 136.5h1M359 202.5h2M438 266.5h1M496 338.5h1M52 120.5h1M259 120.5h1M401 222.5h1M45 129.5h1M270 129.5h1M330 180.5h1M6 138.5h1M30 138.5h2M281 138.5h1M7 139.5h2M28 139.5h2M282 139.5h1M911 427.5h1M437 265.5h1M478 315.5h1M492 333.5h1M1233 333.5h1M965 478.5h1M1069 478.5h1M956 470.5h1M1081 470.5h1M525 367.5h1M629 367.5h1M764 367.5h2M303 157.5h2M314 166.5h1M397 219.5h1M892 408.5h2M315 167.5h1M46 128.5h1M268 128.5h2M885 405.5h2M1178 405.5h1M477 314.5h1M456 291.5h1M874 395.5h1M1186 395.5h1M955 469.5h1M1082 469.5h2M926 442.5h1M1150 442.5h1M937 451.5h1M1139 451.5h2M355 199.5h2M582 379.5h2M608 379.5h2M1201 379.5h1M388 214.5h2M343 189.5h2M57 114.5h1M254 114.5h1M875 396.5h1M1185 396.5h1M35 135.5h2M277 135.5h1M469 305.5h1M370 210.5h2M379 210.5h3M470 306.5h1M922 439.5h1M1153 439.5h1M957 471.5h1M1079 471.5h2M366 208.5h2M410 232.5h1M904 419.5h1M1169 419.5h1M310 163.5h1M411 233.5h1M64 107.5h1M232 107.5h3M868 389.5h1M1192 389.5h1M939 453.5h2M1137 453.5h1M487 326.5h1M881 402.5h1M1180 402.5h1M921 438.5h1M1154 438.5h1M898 412.5h1M1173 412.5h1M350 195.5h1M509 353.5h1M656 353.5h2M728 353.5h2M584 380.5h3M606 380.5h2M1200 380.5h1M530 371.5h2M622 371.5h2M770 371.5h1M1207 371.5h1M402 223.5h1M351 196.5h2M454 288.5h1M1160 432.5h1M403 224.5h1M502 346.5h1M428 253.5h1M880 401.5h1M1181 401.5h1M862 383.5h1M1198 383.5h1M914 430.5h1M429 254.5h1M933 447.5h1M1145 447.5h1M417 239.5h1M1127 457.5h4M950 464.5h1M1095 464.5h4M948 462.5h1M1110 462.5h2M864 385.5h1M1196 385.5h1M534 373.5h1M619 373.5h2M772 373.5h1M418 240.5h1M861 382.5h1M913 429.5h1M918 435.5h1M1157 435.5h1M474 310.5h1M1247 310.5h1M958 472.5h1M1078 472.5h1M398 220.5h1M48 125.5h1M263 125.5h2M905 420.5h1M399 221.5h2M906 421.5h1M59 112.5h1M252 112.5h1M897 411.5h1M883 404.5h2M442 271.5h1M963 477.5h2M1070 477.5h1M293 147.5h1M305 158.5h1M866 387.5h1M1194 387.5h1M394 217.5h1M386 213.5h2M894 409.5h1M1175 409.5h1M882 403.5h1M441 270.5h1M326 176.5h1M256 116.5h1M199 94.5h4M337 185.5h1M300 154.5h1M289 144.5h1M511 355.5h1M652 355.5h2M732 355.5h2M1218 355.5h1M517 361.5h1M640 361.5h3M746 361.5h2M970 483.5h1M1060 483.5h2M322 173.5h1M333 182.5h1M899 413.5h1M466 302.5h1M900 414.5h1M909 425.5h1M1165 425.5h1M870 391.5h1M942 455.5h1M1134 455.5h1M362 204.5h1M363 205.5h1M480 317.5h1M317 169.5h1M306 159.5h1M421 244.5h1M318 170.5h1M458 293.5h1M329 179.5h1M895 410.5h2M422 245.5h1M877 398.5h1M927 443.5h2M1149 443.5h1M929 444.5h1M1148 444.5h1M436 264.5h1M347 192.5h1M358 201.5h1M61 110.5h1M250 110.5h1M328 178.5h1M60 111.5h1M251 111.5h1M414 236.5h1M944 458.5h1M1123 458.5h4M910 426.5h1M953 467.5h1M1086 467.5h2M302 156.5h1M890 407.5h2M923 440.5h2M1152 440.5h1M342 188.5h1M353 197.5h1M364 206.5h1M354 198.5h1M365 207.5h1M335 184.5h2M865 386.5h1M1195 386.5h1M1167 422.5h1M961 475.5h1M1073 475.5h1M449 281.5h1M319 171.5h2M460 296.5h1M331 181.5h2M878 399.5h1M482 319.5h1M499 342.5h1M1227 342.5h1M879 400.5h1M1182 400.5h1M920 437.5h1M1155 437.5h1M349 194.5h1M416 238.5h1M453 287.5h1M1241 320.5h1M1237 327.5h1M42 131.5h1M272 131.5h1M931 446.5h2M1146 446.5h1M529 370.5h1M624 370.5h2M769 370.5h1M967 480.5h1M1066 480.5h1M296 150.5h1M297 151.5h1M54 118.5h1M485 323.5h1M49 124.5h1M262 124.5h1M887 406.5h3M1177 406.5h1M863 384.5h1M1197 384.5h1M340 187.5h2M462 298.5h1M426 250.5h1M463 299.5h1M440 269.5h1M489 329.5h1M451 284.5h1M323 174.5h2M325 175.5h1M936 450.5h1M1141 450.5h1M298 152.5h1M299 153.5h1M309 162.5h1M321 172.5h1M56 115.5h1M255 115.5h1M876 397.5h1M1184 397.5h1M465 301.5h1M490 330.5h1M1235 330.5h1M361 203.5h1M457 292.5h1M479 316.5h1M916 433.5h1M1159 433.5h1M431 257.5h1M345 190.5h1M346 191.5h1M357 200.5h1M316 168.5h1M327 177.5h1M420 243.5h1M472 308.5h1M412 234.5h1M413 235.5h1M908 424.5h1M404 225.5h1M405 226.5h1M493 334.5h1M445 275.5h1M503 347.5h1M433 260.5h1M481 318.5h1" stroke="#0000cd" stroke-width="1" fill="none"/>
<path d="M261.5 153v2M628.5 354v2M1162.5 405v3M432.5 299v2M16.5 92v2M1146.5 437v2M884.5 437v2M414.5 260v2M443.5 322v2M250.5 129v2M449.5 337v2M1166.5 393v3M450.5 339v2M1178.5 358v3M1165.5 396v3M235.5 116v2M882.5 433v2M890.5 447v2M1201.5 307v2M448.5 334v3M423.5 278v2M1197.5 315v2M430.5 294v2M256.5 141v2M1172.5 377v3M896.5 456v2M1200.5 309v2M900.5 462v2M1184.5 341v3M1196.5 317v2M421.5 273v3M422.5 276v2M35.5 94v2M1175.5 367v4M429.5 291v3M435.5 306v3M623.5 362v2M707.5 361v2M410.5 254v2M898.5 459v2M902.5 465v2M247.5 125v2M1174.5 371v3M1211.5 294v2M420.5 271v2M1186.5 336v2M858.5 389v2M427.5 287v2M875.5 419v2M878.5 424v2M434.5 304v2M879.5 426v2M264.5 158v2M412.5 257v2M886.5 441v2M416.5 263v2M1177.5 361v3M445.5 326v3M1151.5 429v2M868.5 406v2M871.5 411v2M676.5 334v2M1168.5 388v3M859.5 391v2M860.5 393v2M1180.5 352v3M1192.5 325v2M1159.5 413v2M888.5 444v2M251.5 131v2M873.5 415v2M870.5 409v2M258.5 146v2M678.5 337v2M1158.5 415v2M1187.5 334v2M1154.5 423v2M424.5 280v2M1153.5 425v2M631.5 350v2M257.5 143v3M680.5 340v2M1075.5 459v2M626.5 358v2M14.5 95v2M1143.5 441v2M892.5 450v2M295.5 185v2M881.5 430v3M436.5 309v2M1171.5 380v2M1203.5 304v2M1199.5 311v2M862.5 396v2M1150.5 431v2M880.5 428v2M399.5 240v2M417.5 265v2M904.5 469v2M253.5 135v2M1198.5 313v2M452.5 343v2M872.5 413v2M1148.5 434v2M1194.5 321v2M260.5 151v2M1161.5 408v3M1190.5 328v2M864.5 399v2M444.5 324v2M1167.5 391v2M451.5 341v2M426.5 285v2M1164.5 399v3M259.5 148v3M1179.5 355v3M39.5 99v2M866.5 402v2M1207.5 299v2M403.5 245v2M425.5 282v3M1182.5 346v3M431.5 296v3M438.5 313v2M883.5 435v2M839.5 370v2M437.5 311v2M683.5 344v2M447.5 332v2M903.5 467v2M43.5 104v2M255.5 139v2M252.5 133v2M874.5 417v2M262.5 155v2M407.5 250v2M1183.5 344v2M1195.5 319v2M298.5 189v2M1170.5 382v3M446.5 329v3M418.5 267v2M254.5 137v2M453.5 345v2M876.5 421v2M1169.5 385v3M1157.5 417v2M1173.5 374v3M1181.5 349v3M1193.5 323v2M300.5 192v2M1160.5 411v2M1189.5 330v2M419.5 269v2M1156.5 419v2M1185.5 338v3M907.5 473v2M455.5 348v2M1067.5 467v2M823.5 372v2M433.5 301v3M885.5 439v2M440.5 317v2M1188.5 332v2M1155.5 421v2M1176.5 364v3M867.5 404v2M1163.5 402v3M674.5 331v2M439.5 315v2M442.5 320v2M627.5 356v2M894.5 453v2M1152.5 427v2M855.5 385v2M428.5 289v2M116 95.5h3M137 95.5h2M147 95.5h4M178 95.5h1M195 95.5h4M202 95.5h2M522 380.5h1M563 380.5h4M571 380.5h4M731 380.5h8M772 380.5h2M850 380.5h1M13 97.5h1M37 97.5h1M113 97.5h1M122 97.5h1M134 97.5h1M154 97.5h2M175 97.5h2M207 97.5h4M494 373.5h1M595 373.5h4M607 373.5h3M720 373.5h1M784 373.5h1M804 373.5h2M841 373.5h1M1216 289.5h1M1224 289.5h10M36 96.5h1M114 96.5h2M119 96.5h3M135 96.5h2M151 96.5h3M177 96.5h1M204 96.5h3M495 374.5h2M507 374.5h4M593 374.5h2M599 374.5h8M721 374.5h1M783 374.5h1M806 374.5h1M822 374.5h1M842 374.5h1M336 201.5h2M500 377.5h2M516 377.5h2M587 377.5h3M724 377.5h1M747 377.5h4M755 377.5h4M766 377.5h2M778 377.5h2M809 377.5h9M846 377.5h1M518 378.5h2M583 378.5h4M725 378.5h2M743 378.5h4M768 378.5h2M776 378.5h2M847 378.5h2M366 220.5h1M498 376.5h2M502 376.5h2M514 376.5h2M590 376.5h1M723 376.5h1M751 376.5h4M759 376.5h7M780 376.5h2M808 376.5h1M818 376.5h2M845 376.5h1M520 379.5h2M567 379.5h4M575 379.5h8M727 379.5h4M739 379.5h4M770 379.5h2M774 379.5h2M849 379.5h1M305 198.5h6M328 198.5h3M497 375.5h1M504 375.5h3M511 375.5h3M591 375.5h2M722 375.5h1M782 375.5h1M807 375.5h1M820 375.5h2M843 375.5h2M639 342.5h1M681 342.5h1M530 385.5h2M548 385.5h3M911 478.5h1M1032 478.5h7M1047 478.5h7M1246 278.5h1M919 483.5h4M927 483.5h4M944 483.5h2M1018 483.5h2M1111 445.5h4M1139 445.5h2M532 386.5h2M546 386.5h2M34 93.5h1M180 93.5h1M187 93.5h4M958 488.5h2M1010 488.5h2M636 345.5h1M490 370.5h1M614 370.5h1M717 370.5h1M788 370.5h2M796 370.5h3M825 370.5h1M459 353.5h1M629 353.5h1M692 353.5h3M395 237.5h2M480 366.5h3M619 366.5h2M711 366.5h2M829 366.5h5M331 199.5h3M486 368.5h2M617 368.5h1M714 368.5h1M792 368.5h2M827 368.5h1M836 368.5h2M923 484.5h4M946 484.5h2M1017 484.5h1M909 476.5h1M1056 476.5h2M45 107.5h1M57 107.5h1M81 107.5h1M99 107.5h2M224 107.5h1M1141 444.5h1M15 94.5h1M139 94.5h8M179 94.5h1M191 94.5h4M199 94.5h3M950 486.5h2M1014 486.5h1M303 196.5h1M314 196.5h1M324 196.5h2M523 381.5h2M559 381.5h4M851 381.5h1M536 388.5h3M542 388.5h2M857 388.5h1M10 99.5h1M110 99.5h1M125 99.5h6M158 99.5h2M172 99.5h2M214 99.5h2M528 384.5h2M551 384.5h3M854 384.5h1M457 351.5h1M689 351.5h1M1085 450.5h5M1125 450.5h2M1134 450.5h1M889 446.5h1M1103 446.5h8M1115 446.5h4M1138 446.5h1M48 110.5h1M54 110.5h1M86 110.5h2M94 110.5h2M227 110.5h2M1081 453.5h1M488 369.5h2M615 369.5h2M715 369.5h2M790 369.5h2M794 369.5h2M826 369.5h1M838 369.5h1M18 90.5h1M31 90.5h1M402 244.5h1M916 482.5h3M931 482.5h8M942 482.5h2M1020 482.5h2M3 102.5h3M41 102.5h1M66 102.5h2M71 102.5h3M106 102.5h1M219 102.5h1M239 120.5h3M301 194.5h1M317 194.5h5M17 91.5h1M32 91.5h1M869 408.5h1M912 479.5h1M1030 479.5h2M1039 479.5h8M21 87.5h6M493 372.5h1M610 372.5h2M719 372.5h1M785 372.5h1M802 372.5h2M840 372.5h1M464 357.5h2M703 357.5h1M8 100.5h2M109 100.5h1M160 100.5h7M170 100.5h2M216 100.5h2M1253 272.5h1M887 443.5h1M1142 443.5h1M11 98.5h2M38 98.5h1M111 98.5h2M123 98.5h2M131 98.5h3M156 98.5h2M174 98.5h1M211 98.5h3M355 214.5h3M914 481.5h2M939 481.5h3M1022 481.5h2M539 389.5h3M466 358.5h2M704 358.5h1M460 354.5h1M695 354.5h4M20 88.5h1M27 88.5h3M358 215.5h1M948 485.5h2M1015 485.5h2M1069 465.5h1M350 211.5h1M967 492.5h4M974 492.5h2M1003 492.5h2M952 487.5h6M1012 487.5h2M962 490.5h2M1006 490.5h2M1215 290.5h1M891 449.5h1M1090 449.5h2M1123 449.5h2M1135 449.5h1M478 365.5h2M621 365.5h1M710 365.5h1M1092 448.5h7M1122 448.5h1M1136 448.5h1M456 350.5h1M688 350.5h1M976 493.5h3M983 493.5h4M1002 493.5h1M461 355.5h1M699 355.5h3M471 361.5h2M624 361.5h1M351 212.5h2M1073 462.5h1M272 166.5h1M1237 286.5h1M979 494.5h4M987 494.5h4M999 494.5h3M534 387.5h2M544 387.5h2M856 387.5h1M33 92.5h1M181 92.5h6M905 471.5h1M1063 471.5h2M1083 451.5h2M1127 451.5h7M483 367.5h3M618 367.5h1M713 367.5h1M828 367.5h1M834 367.5h2M1210 296.5h1M474 363.5h2M708 363.5h1M526 383.5h2M554 383.5h2M853 383.5h1M353 213.5h2M1241 283.5h1M660 325.5h7M454 347.5h1M634 347.5h1M685 347.5h1M646 336.5h1M677 336.5h1M1217 288.5h2M1222 288.5h2M1234 288.5h1M49 111.5h5M88 111.5h6M229 111.5h1M491 371.5h2M612 371.5h2M718 371.5h1M786 371.5h2M799 371.5h3M824 371.5h1M913 480.5h1M1024 480.5h6M302 195.5h1M315 195.5h2M322 195.5h2M1202 306.5h1M279 173.5h1M1099 447.5h4M1119 447.5h3M1137 447.5h1M865 401.5h1M390 234.5h2M304 197.5h1M311 197.5h3M326 197.5h2M392 235.5h2M650 332.5h1M376 227.5h3M291 183.5h3M897 458.5h1M1076 458.5h1M1 101.5h2M6 101.5h2M40 101.5h1M68 101.5h3M107 101.5h2M167 101.5h3M218 101.5h1M1244 280.5h1M294 184.5h1M643 338.5h2M286 180.5h1M387 232.5h2M379 228.5h3M658 326.5h2M667 326.5h3M1247 277.5h2M647 335.5h1M345 207.5h1M289 182.5h2M346 208.5h1M525 382.5h1M556 382.5h3M852 382.5h1M267 162.5h2M406 249.5h1M46 108.5h1M56 108.5h1M82 108.5h2M98 108.5h1M225 108.5h1M382 229.5h2M441 319.5h1M1149 433.5h1M234 115.5h1M42 103.5h1M64 103.5h2M74 103.5h2M105 103.5h1M220 103.5h1M47 109.5h1M55 109.5h1M84 109.5h2M96 109.5h2M226 109.5h1M960 489.5h2M1008 489.5h2M60 105.5h2M78 105.5h1M102 105.5h1M222 105.5h1M991 495.5h8M654 328.5h2M671 328.5h1M44 106.5h1M58 106.5h2M79 106.5h2M101 106.5h1M223 106.5h1M642 339.5h1M679 339.5h1M1071 463.5h2M404 247.5h1M371 224.5h2M964 491.5h3M971 491.5h3M1005 491.5h1M638 343.5h1M682 343.5h1M405 248.5h1M364 219.5h2M231 113.5h2M367 221.5h2M462 356.5h2M702 356.5h1M893 452.5h1M1082 452.5h1M458 352.5h1M630 352.5h1M690 352.5h2M274 168.5h1M1219 287.5h3M1235 287.5h2M230 112.5h1M1250 275.5h1M649 333.5h1M675 333.5h1M281 175.5h1M1239 284.5h2M468 359.5h2M705 359.5h1M243 122.5h2M236 118.5h1M1243 281.5h1M273 167.5h1M359 216.5h2M910 477.5h1M1054 477.5h2M1209 297.5h1M296 187.5h1M1212 293.5h1M633 348.5h1M686 348.5h1M245 123.5h1M237 119.5h2M1059 474.5h2M340 203.5h2M1204 303.5h1M362 218.5h2M652 330.5h1M673 330.5h1M397 238.5h1M1078 456.5h1M656 327.5h2M670 327.5h1M1191 327.5h1M408 252.5h1M895 455.5h1M1079 455.5h1M640 341.5h1M899 461.5h1M1074 461.5h1M476 364.5h2M622 364.5h1M709 364.5h1M901 464.5h1M1070 464.5h1M62 104.5h2M76 104.5h2M103 104.5h2M221 104.5h1M280 174.5h1M374 226.5h2M287 181.5h2M269 163.5h1M299 191.5h1M373 225.5h1M347 209.5h2M389 233.5h1M1061 473.5h1M1238 285.5h1M1065 470.5h1M384 230.5h2M411 256.5h1M1080 454.5h1M369 222.5h1M651 331.5h1M1145 439.5h1M1252 273.5h1M877 423.5h1M635 346.5h1M684 346.5h1M1245 279.5h1M1068 466.5h1M1214 291.5h1M1206 301.5h1M246 124.5h1M275 169.5h1M398 239.5h1M276 170.5h1M1249 276.5h1M282 176.5h1M470 360.5h1M625 360.5h1M706 360.5h1M338 202.5h2M283 177.5h1M409 253.5h1M297 188.5h1M342 204.5h1M361 217.5h1M334 200.5h2M19 89.5h1M30 89.5h1M861 395.5h1M242 121.5h1M413 259.5h1M473 362.5h1M653 329.5h1M672 329.5h1M394 236.5h1M908 475.5h1M1058 475.5h1M248 127.5h1M637 344.5h1M249 128.5h1M263 157.5h1M632 349.5h1M687 349.5h1M349 210.5h1M1205 302.5h1M270 164.5h1M271 165.5h1M1251 274.5h1M386 231.5h1M400 242.5h1M1144 440.5h1M277 171.5h1M648 334.5h1M1213 292.5h1M401 243.5h1M278 172.5h1M641 340.5h1M1208 298.5h1M415 262.5h1M285 179.5h1M370 223.5h1M1147 436.5h1M1077 457.5h1M344 206.5h1M265 160.5h1M1242 282.5h1M266 161.5h1M645 337.5h1M863 398.5h1M906 472.5h1M1062 472.5h1M284 178.5h1M233 114.5h1M1066 469.5h1M343 205.5h1" stroke="#ff0000" stroke-width="1" fill="none"/>
<path d="M491.5 386v2M423.5 329v3M786.5 382v3M261.5 188v4M424.5 332v2M80.5 113v2M430.5 347v2M1065.5 448v3M228.5 132v2M19.5 136v4M1173.5 312v5M413.5 299v4M578.5 367v2M647.5 323v2M791.5 365v4M864.5 436v3M279.5 191v2M4.5 104v7M620.5 338v4M721.5 392v2M1062.5 456v2M980.5 504v2M1163.5 358v4M1176.5 297v5M22.5 121v6M1070.5 433v2M1246.5 249v2M406.5 272v4M249.5 145v2M220.5 119v2M513.5 372v2M936.5 474v2M535.5 396v2M183.5 92v2M398.5 246v3M235.5 139v2M94.5 99v2M770.5 382v4M1158.5 377v3M118.5 84v4M640.5 308v2M927.5 487v2M3.5 97v7M121.5 95v3M717.5 384v2M1154.5 385v2M549.5 392v2M1091.5 445v2M561.5 365v2M1061.5 458v3M612.5 366v3M21.5 127v5M489.5 382v2M60.5 119v2M763.5 357v2M492.5 388v2M1162.5 362v5M1237.5 275v3M846.5 390v2M136.5 115v2M1068.5 438v3M557.5 373v2M950.5 483v2M1057.5 467v3M9.5 130v4M42.5 80v2M459.5 367v2M429.5 344v3M874.5 466v2M740.5 384v3M580.5 370v2M860.5 422v4M747.5 366v2M256.5 164v3M1113.5 459v2M1133.5 437v2M1145.5 410v3M52.5 105v3M863.5 432v4M1171.5 321v4M773.5 395v3M788.5 375v3M482.5 368v2M1124.5 446v2M359.5 235v2M1236.5 278v2M102.5 84v2M995.5 480v2M218.5 115v2M135.5 117v2M1161.5 367v4M556.5 375v2M127.5 113v2M184.5 94v2M1187.5 278v2M1232.5 285v2M98.5 91v2M1055.5 472v2M960.5 500v2M963.5 505v2M793.5 360v2M572.5 361v2M116.5 80v2M792.5 362v3M641.5 310v2M2.5 90v7M117.5 82v2M631.5 303v2M414.5 303v3M642.5 312v2M553.5 382v3M1178.5 290v3M746.5 368v2M715.5 380v2M1090.5 443v2M417.5 313v3M716.5 382v2M418.5 316v3M469.5 360v2M649.5 327v2M848.5 393v2M866.5 442v3M948.5 480v2M1140.5 421v2M869.5 452v3M952.5 486v2M134.5 119v2M407.5 276v4M872.5 461v3M1160.5 371v3M8.5 126v4M393.5 235v2M251.5 150v3M410.5 287v4M804.5 363v2M1231.5 287v2M24.5 109v6M97.5 93v2M1054.5 474v2M47.5 92v3M552.5 385v2M51.5 103v2M840.5 379v2M1177.5 293v4M403.5 262v4M484.5 371v2M468.5 362v3M154.5 88v2M487.5 377v3M560.5 367v2M1139.5 423v2M742.5 378v3M1023.5 477v2M961.5 502v2M765.5 361v4M1167.5 338v5M958.5 496v2M768.5 373v4M18.5 140v4M510.5 378v2M1147.5 404v3M1085.5 429v2M11.5 137v4M1086.5 431v3M714.5 378v2M92.5 102v2M563.5 362v2M629.5 306v2M339.5 208v2M865.5 439v3M213.5 104v2M1245.5 251v2M559.5 369v2M673.5 353v2M868.5 449v3M908.5 485v2M1168.5 333v5M7.5 121v5M27.5 98v3M935.5 476v2M954.5 489v2M988.5 487v2M857.5 412v3M46.5 90v2M931.5 482v2M1180.5 283v3M436.5 359v2M710.5 370v2M1146.5 407v3M707.5 365v2M399.5 249v4M771.5 386v5M782.5 394v3M485.5 373v2M839.5 377v2M694.5 366v2M611.5 369v2M419.5 319v2M523.5 376v2M1175.5 302v5M262.5 192v2M1150.5 395v3M263.5 194v3M26.5 101v4M426.5 337v2M739.5 387v2M624.5 321v4M987.5 489v2M1165.5 348v5M10.5 134v3M1179.5 286v4M13.5 144v2M781.5 397v2M259.5 177v5M404.5 266v3M211.5 100v2M610.5 371v3M342.5 212v2M212.5 102v2M956.5 492v2M6.5 117v4M1149.5 398v3M752.5 352v3M856.5 410v2M219.5 117v2M807.5 367v2M785.5 385v3M769.5 377v5M534.5 394v2M738.5 389v3M614.5 360v3M1227.5 293v2M709.5 368v2M1240.5 268v2M1143.5 415v2M29.5 91v3M1071.5 431v2M719.5 388v2M526.5 380v2M465.5 370v2M876.5 470v2M431.5 349v3M551.5 387v3M582.5 374v2M772.5 391v4M1239.5 270v3M138.5 109v4M28.5 94v4M758.5 348v2M626.5 314v3M1100.5 462v2M617.5 350v3M221.5 121v2M126.5 111v2M749.5 361v3M1135.5 432v2M32.5 81v3M621.5 333v5M696.5 363v2M718.5 386v2M1092.5 447v2M260.5 182v6M850.5 397v2M145.5 92v2M395.5 239v2M253.5 156v3M748.5 364v2M875.5 468v2M49.5 97v3M1242.5 261v4M141.5 100v2M581.5 372v2M984.5 495v2M31.5 84v4M53.5 108v2M760.5 351v2M679.5 362v2M128.5 115v2M1056.5 470v2M607.5 378v2M79.5 115v2M1064.5 451v2M1087.5 434v3M140.5 102v4M643.5 314v3M415.5 306v4M983.5 497v3M1094.5 451v2M619.5 342v4M852.5 401v2M215.5 108v3M849.5 395v2M1174.5 307v5M41.5 78v2M408.5 280v4M606.5 380v2M25.5 105v4M397.5 243v3M78.5 117v2M252.5 153v3M400.5 253v3M1157.5 380v2M1063.5 453v3M712.5 374v2M120.5 91v4M982.5 500v2M123.5 101v4M1067.5 441v4M446.5 359v2M1148.5 401v3M613.5 363v3M1156.5 382v2M862.5 429v3M1112.5 461v2M1152.5 389v3M547.5 395v2M214.5 106v2M1235.5 280v2M741.5 381v3M555.5 377v3M1181.5 281v2M1082.5 424v2M1134.5 434v3M1172.5 317v4M1115.5 456v2M711.5 372v2M119.5 88v3M1164.5 353v5M57.5 112v2M416.5 310v3M745.5 370v3M843.5 384v2M1111.5 463v2M486.5 375v2M350.5 222v2M156.5 91v2M122.5 98v3M558.5 371v2M1122.5 449v2M144.5 94v2M409.5 284v3M871.5 458v3M616.5 353v3M412.5 295v4M433.5 354v2M584.5 378v2M1073.5 427v2M405.5 269v3M676.5 358v2M467.5 365v2M1195.5 285v2M223.5 124v2M1166.5 343v5M281.5 186v2M59.5 116v3M646.5 321v2M1072.5 429v2M1248.5 246v2M1170.5 325v4M421.5 324v3M720.5 390v2M1244.5 253v4M979.5 506v2M425.5 334v3M751.5 355v3M870.5 455v3M44.5 85v2M1183.5 278v2M784.5 388v3M411.5 291v4M859.5 419v3M48.5 95v2M258.5 171v6M583.5 376v2M1169.5 329v4M344.5 215v2M5.5 111v6M20.5 132v4M750.5 358v3M536.5 398v2M986.5 491v2M783.5 391v3M644.5 317v2M1238.5 273v2M137.5 113v2M1127.5 442v2M670.5 346v2M1093.5 449v2M420.5 321v3M1096.5 455v2M100.5 87v2M802.5 359v2M787.5 378v4M217.5 113v2M625.5 317v4M528.5 384v2M851.5 399v2M250.5 147v3M43.5 82v3M570.5 358v2M1066.5 445v3M858.5 415v4M115.5 78v2M861.5 426v3M257.5 167v4M1110.5 465v2M1142.5 417v2M655.5 334v2M320.5 200v2M99.5 89v2M129.5 117v2M227.5 130v2M448.5 362v2M554.5 380v2M790.5 369v3M278.5 193v3M669.5 344v2M867.5 445v4M1141.5 419v2M744.5 373v3M1069.5 435v3M216.5 111v2M512.5 374v2M182.5 90v2M394.5 237v2M623.5 325v4M17.5 144v2M639.5 306v2M508.5 381v2M713.5 376v2M67.5 121v2M789.5 372v3M90.5 105v2M488.5 380v2M842.5 382v2M277.5 196v2M618.5 346v4M845.5 388v2M1060.5 461v2M743.5 376v2M352.5 226v2M978.5 508v2M766.5 365v4M1136.5 429v3M265.5 199v2M226.5 128v2M873.5 464v2M428.5 342v2M622.5 329v4M432.5 352v2M1059.5 463v2M989.5 485v2M1243.5 257v4M396.5 241v2M638.5 304v2M23.5 115v6M1089.5 440v3M58.5 114v2M104.5 81v2M844.5 386v2M947.5 478v2M351.5 224v2M1151.5 392v3M906.5 482v2M1234.5 282v2M854.5 406v2M1159.5 374v3M427.5 339v3M96.5 95v2M1.5 86v4M1230.5 289v2M434.5 356v2M50.5 100v3M585.5 380v2M402.5 259v3M125.5 108v3M957.5 494v2M1138.5 425v2M767.5 369v4M615.5 356v4M1084.5 427v2M95.5 97v2M1241.5 265v3M1088.5 437v3M30.5 88v3M550.5 390v2M628.5 308v3M159.5 95v2M672.5 351v2M1098.5 459v2M1095.5 453v2M466.5 367v3M530.5 388v2M527.5 382v2M853.5 403v3M934.5 478v2M1137.5 427v2M45.5 87v3M255.5 162v2M401.5 256v3M139.5 106v3M627.5 311v3M762.5 355v2M124.5 105v3M937.5 472v2M33.5 79v2M12.5 141v3M506.5 384v2M645.5 319v2M210.5 98v2M671.5 348v3M609.5 374v2M723.5 395v2M1097.5 457v2M1058.5 465v2M318.5 203v2M529.5 386v2M532.5 391v2M142.5 98v2M254.5 159v3M985.5 493v2M737.5 392v2M280.5 188v3M61.5 121v2M764.5 359v2M761.5 353v2M490.5 384v2M608.5 376v2M298.5 190v2M264.5 197v2M703.5 360v2M114.5 76v2M946.5 476v2M422.5 327v2M300.5 193v2M511.5 376v2M838.5 375v2M1153.5 387v2M147.5 89v2M959.5 498v2M143.5 96v2M1144.5 413v2M648.5 325v2M355.5 230v2M674.5 355v2M803.5 361v2M855.5 408v2M981.5 502v2M753.5 350v2M311 204.5h2M332 204.5h2M525 379.5h1M929 485.5h1M951 485.5h1M1034 485.5h1M1039 485.5h2M652 331.5h1M757 347.5h1M157 93.5h1M168 93.5h6M588 384.5h1M595 384.5h4M602 384.5h1M1155 384.5h1M732 395.5h2M282 186.5h4M1205 294.5h2M1211 294.5h4M1222 294.5h1M928 486.5h1M1035 486.5h2M1038 486.5h1M357 233.5h1M378 233.5h1M385 233.5h1M949 482.5h1M994 482.5h1M1027 482.5h1M1043 482.5h2M438 360.5h2M470 360.5h1M474 360.5h1M565 360.5h1M571 360.5h1M677 360.5h1M699 360.5h1M1099 461.5h1M111 75.5h3M435 358.5h1M443 358.5h3M567 358.5h2M701 358.5h1M796 358.5h6M545 398.5h1M725 398.5h2M774 398.5h2M779 398.5h2M1223 295.5h2M1226 295.5h1M877 472.5h2M938 472.5h1M942 472.5h1M1015 472.5h3M361 238.5h13M358 234.5h1M377 234.5h1M386 234.5h2M546 397.5h1M724 397.5h1M727 397.5h3M451 365.5h7M479 365.5h1M575 365.5h2M681 365.5h1M695 365.5h1M805 365.5h1M899 478.5h2M997 478.5h1M1049 478.5h1M884 476.5h1M887 476.5h11M999 476.5h1M1022 476.5h1M1052 476.5h2M160 97.5h1M162 97.5h1M186 97.5h2M194 97.5h2M198 97.5h2M202 97.5h2M207 97.5h3M35 77.5h2M38 77.5h2M108 77.5h1M149 87.5h5M461 370.5h2M483 370.5h1M688 370.5h1M690 370.5h1M809 370.5h2M825 370.5h1M832 370.5h2M458 366.5h1M480 366.5h1M577 366.5h1M682 366.5h2M806 366.5h1M548 394.5h1M722 394.5h1M734 394.5h2M275 199.5h1M305 199.5h1M321 199.5h5M440 359.5h3M471 359.5h3M566 359.5h1M700 359.5h1M702 359.5h1M794 359.5h2M907 484.5h1M930 484.5h1M990 484.5h2M1029 484.5h5M1041 484.5h1M224 126.5h1M524 378.5h1M481 367.5h1M684 367.5h2M708 367.5h1M992 483.5h2M1028 483.5h1M1042 483.5h1M14 145.5h3M883 475.5h1M945 475.5h1M1000 475.5h1M1003 475.5h4M1021 475.5h1M517 375.5h2M522 375.5h1M146 91.5h1M176 91.5h2M509 380.5h1M286 187.5h2M291 187.5h3M274 200.5h1M306 200.5h1M326 200.5h1M267 202.5h2M270 202.5h2M309 202.5h1M319 202.5h1M329 202.5h1M87 107.5h3M356 232.5h1M379 232.5h1M383 232.5h2M493 390.5h2M499 390.5h3M531 390.5h1M288 188.5h3M294 188.5h2M1130 439.5h2M1194 284.5h1M1233 284.5h1M64 124.5h2M68 120.5h1M131 120.5h2M916 494.5h1M919 494.5h3M103 83.5h1M912 490.5h1M925 490.5h1M266 201.5h1M272 201.5h2M307 201.5h2M327 201.5h2M507 383.5h1M587 383.5h1M603 383.5h2M69 119.5h9M130 119.5h1M1185 276.5h1M1077 423.5h5M460 369.5h1M579 369.5h1M687 369.5h1M691 369.5h2M808 369.5h1M826 369.5h2M830 369.5h2M913 491.5h1M924 491.5h1M955 491.5h1M1202 291.5h1M1229 291.5h1M1074 426.5h1M1083 426.5h1M346 218.5h1M1119 452.5h2M1190 282.5h2M463 371.5h2M689 371.5h1M811 371.5h3M823 371.5h2M834 371.5h1M879 473.5h3M943 473.5h1M1011 473.5h4M1018 473.5h1M449 364.5h2M478 364.5h1M562 364.5h1M574 364.5h1M680 364.5h1M706 364.5h1M347 219.5h1M91 104.5h1M1192 283.5h2M636 303.5h2M477 363.5h1M573 363.5h1M705 363.5h1M904 481.5h2M932 481.5h1M1026 481.5h1M1045 481.5h1M885 477.5h2M898 477.5h1M998 477.5h1M1050 477.5h2M1114 458.5h1M360 237.5h1M374 237.5h1M1117 454.5h1M376 235.5h1M388 235.5h5M661 341.5h2M514 373.5h1M816 373.5h6M836 373.5h1M911 489.5h1M926 489.5h1M939 471.5h3M505 386.5h1M589 385.5h6M599 385.5h3M515 374.5h2M519 374.5h3M837 374.5h1M966 509.5h2M970 509.5h2M974 509.5h2M730 396.5h2M269 203.5h1M310 203.5h1M330 203.5h2M158 94.5h1M166 94.5h2M236 141.5h1M239 141.5h7M901 479.5h1M996 479.5h1M1024 479.5h1M1047 479.5h2M968 510.5h2M976 510.5h2M1105 467.5h5M653 332.5h1M234 138.5h1M163 96.5h2M185 96.5h1M196 96.5h2M204 96.5h3M654 333.5h1M663 342.5h3M174 92.5h2M1121 451.5h1M668 344.5h1M965 508.5h1M972 508.5h2M1102 465.5h1M161 98.5h1M188 98.5h6M200 98.5h2M755 348.5h2M1204 293.5h1M1207 293.5h4M1215 293.5h7M1198 289.5h2M543 399.5h2M776 399.5h3M759 350.5h1M55 111.5h2M82 111.5h1M537 400.5h2M542 400.5h1M915 493.5h1M922 493.5h1M814 372.5h2M822 372.5h1M835 372.5h1M539 401.5h3M917 495.5h2M1129 440.5h1M148 88.5h1M495 389.5h4M502 389.5h1M296 189.5h2M229 134.5h1M1249 245.5h1M230 135.5h1M37 76.5h1M109 76.5h2M85 108.5h2M180 89.5h2M313 205.5h5M334 205.5h2M437 361.5h1M447 361.5h1M475 361.5h1M564 361.5h1M678 361.5h1M698 361.5h1M686 368.5h1M693 368.5h1M828 368.5h2M348 220.5h1M237 142.5h2M246 142.5h1M349 221.5h1M882 474.5h1M944 474.5h1M1001 474.5h2M1007 474.5h4M1019 474.5h2M657 337.5h1M1076 424.5h1M225 127.5h1M1182 280.5h1M1188 280.5h1M336 206.5h2M1184 277.5h1M1186 277.5h1M381 230.5h1M914 492.5h1M923 492.5h1M54 110.5h1M83 110.5h1M62 123.5h2M66 123.5h1M222 123.5h1M93 101.5h1M380 231.5h1M382 231.5h1M1116 455.5h1M101 86.5h1M656 336.5h1M841 381.5h1M105 80.5h1M299 192.5h1M476 362.5h1M697 362.5h1M704 362.5h1M902 480.5h2M933 480.5h1M1025 480.5h1M1046 480.5h1M962 504.5h1M340 210.5h1M847 392.5h1M630 305.5h1M1251 243.5h2M754 349.5h1M1103 466.5h2M155 90.5h1M178 90.5h2M81 112.5h1M1189 281.5h1M1200 290.5h2M633 301.5h1M533 393.5h1M736 393.5h1M1203 292.5h1M1228 292.5h1M666 343.5h2M1123 448.5h1M84 109.5h1M231 136.5h2M909 487.5h1M1037 487.5h1M302 196.5h1M34 78.5h1M40 78.5h1M107 78.5h1M1126 444.5h1M353 228.5h1M354 229.5h1M658 338.5h1M1225 296.5h1M301 195.5h1M1253 242.5h1M1118 453.5h1M338 207.5h1M964 507.5h1M910 488.5h1M953 488.5h1M504 387.5h1M650 329.5h1M632 302.5h1M634 302.5h2M106 79.5h1M341 211.5h1M1125 445.5h1M345 217.5h1M375 236.5h1M569 357.5h1M675 357.5h1M303 197.5h1M276 198.5h1M304 198.5h1M248 144.5h1M1075 425.5h1M586 382.5h1M605 382.5h1M1101 464.5h1M660 340.5h1M1128 441.5h1M1132 438.5h1M503 388.5h1M233 137.5h1M659 339.5h1M1196 287.5h1M1197 288.5h1M165 95.5h1M133 121.5h1M247 143.5h1M1247 248.5h1M1250 244.5h1M343 214.5h1M651 330.5h1" stroke="#ffa500" stroke-width="1" fill="none"/>
<line x1="2" y1="583.5" x2="1577" y2="583.5" stroke="#c0c0c0" stroke-width="1" stroke-dasharray="3,3"/>
<line x1="2" y1="620.5" x2="1577" y2="620.5" stroke="#c0c0c0" stroke-width="1" stroke-dasharray="3,3"/>
<path d="M1187.5 583v2M446.5 620v2M1110.5 600v3M115.5 599v3M262.5 620v4M377.5 605v2M768.5 613v2M1081.5 591v2M985.5 596v2M920.5 614v2M250.5 613v2M1163.5 578v2M672.5 607v2M669.5 601v2M943.5 611v2M133.5 598v2M657.5 603v2M265.5 609v3M919.5 616v3M114.5 597v2M448.5 623v2M440.5 617v3M775.5 607v3M1228.5 591v2M1082.5 593v2M1071.5 584v2M539.5 611v2M182.5 601v2M132.5 600v2M235.5 613v2M450.5 623v2M493.5 620v2M1113.5 593v2M212.5 606v2M918.5 619v2M1139.5 587v2M1055.5 593v2M1140.5 589v2M944.5 613v2M755.5 596v3M774.5 610v4M504.5 606v2M1227.5 593v2M238.5 613v2M705.5 609v2M633.5 589v2M727.5 610v2M1054.5 595v2M762.5 604v2M859.5 621v2M188.5 602v2M715.5 612v2M184.5 605v2M739.5 598v3M181.5 599v2M496.5 610v3M237.5 615v2M777.5 601v2M685.5 603v2M1138.5 585v2M754.5 594v2M187.5 604v2M541.5 607v2M373.5 614v2M703.5 605v2M704.5 607v2M1084.5 598v2M635.5 592v2M684.5 605v2M247.5 609v2M764.5 607v2M251.5 615v2M437.5 626v2M673.5 609v2M888.5 618v2M1189.5 587v2M972.5 608v2M702.5 603v2M7.5 607v2M241.5 607v2M671.5 605v2M971.5 610v2M740.5 596v2M607.5 598v2M116.5 602v2M1135.5 587v2M1222.5 591v2M1131.5 593v2M606.5 600v2M776.5 603v4M1119.5 596v2M735.5 606v2M1141.5 591v2M1134.5 589v2M757.5 601v2M540.5 609v2M738.5 601v2M654.5 597v2M1083.5 595v3M183.5 603v2M1056.5 591v2M1018.5 600v2M756.5 599v2M435.5 629v2M375.5 609v3M1226.5 595v2M656.5 601v2M630.5 583v2M959.5 615v2M439.5 620v3M374.5 612v2M495.5 613v4M131.5 602v2M452.5 619v2M130.5 604v2M118.5 606v2M1224.5 595v2M1186.5 581v2M383.5 608v2M1109.5 603v2M186.5 606v2M394.5 612v2M117.5 604v2M120.5 610v2M683.5 607v2M143.5 598v2M1223.5 593v2M1085.5 600v2M921.5 612v2M887.5 620v2M264.5 612v4M886.5 622v2M396.5 615v2M210.5 603v2M263.5 616v4M1221.5 589v2M502.5 609v2M240.5 609v2M655.5 599v2M494.5 617v3M35.5 597v2M551.5 600v2M885.5 624v2M1179.5 576v2M958.5 613v2M471.5 611v2M239.5 611v2M984.5 598v2M261.5 624v2M497.5 608v2M185.5 607v2M1178.5 574v2M113.5 595v2M960.5 617v2M983.5 600v2M1020.5 603v2M979.5 606v2M538.5 613v2M1112.5 595v3M982.5 602v2M917.5 621v2M438.5 623v3M773.5 614v2M252.5 617v2M632.5 587v2M1111.5 598v2M119.5 608v2M973.5 606v2M609.5 594v2M753.5 592v2M741.5 594v2M608.5 596v2M631.5 585v2M1136.5 585v2M451.5 621v2M1188.5 585v2M682.5 609v2M1229.5 589v2M670.5 603v2M970.5 612v2M1180.5 578v2M567.5 598v2M969.5 614v2M441.5 615v2M1137.5 583v2M376.5 607v2M942.5 609v2M851.5 612v2M889.5 616v2M737.5 603v2M455.5 615v2M766.5 610v2M59.5 605v2M537.5 615v2M203.5 603v2M1225.5 597v2M571.5 603v2M618 586.5h1M1061 586.5h2M1072 586.5h1M1150 586.5h1M1192 586.5h3M1198 586.5h2M1217 586.5h1M1234 586.5h1M1247 586.5h4M61 608.5h1M127 608.5h1M213 608.5h1M246 608.5h1M266 608.5h1M271 608.5h2M283 608.5h4M294 608.5h1M308 608.5h3M318 608.5h1M324 608.5h1M503 608.5h1M514 608.5h2M729 608.5h2M734 608.5h1M837 608.5h1M930 608.5h1M941 608.5h1M975 608.5h2M978 608.5h1M21 598.5h1M90 598.5h1M165 598.5h6M553 598.5h1M560 598.5h1M640 598.5h1M647 598.5h2M782 598.5h1M788 598.5h1M987 598.5h1M1002 598.5h2M1007 598.5h3M1050 598.5h2M1120 598.5h1M1122 598.5h1M25 595.5h2M31 595.5h3M94 595.5h2M106 595.5h2M111 595.5h2M637 595.5h1M743 595.5h7M785 595.5h1M1118 595.5h1M1130 595.5h1M23 596.5h2M27 596.5h4M34 596.5h1M93 596.5h1M108 596.5h3M136 596.5h6M563 596.5h3M638 596.5h1M651 596.5h3M784 596.5h1M786 596.5h1M1125 596.5h5M11 604.5h3M45 604.5h10M58 604.5h1M65 604.5h1M207 604.5h1M544 604.5h1M579 604.5h3M595 604.5h2M599 604.5h3M658 604.5h4M686 604.5h1M691 604.5h2M807 604.5h3M833 604.5h1M981 604.5h1M1030 604.5h1M1088 604.5h1M1094 604.5h2M1103 604.5h1M1108 604.5h1M3 610.5h3M124 610.5h2M216 610.5h7M227 610.5h4M275 610.5h4M296 610.5h1M305 610.5h1M327 610.5h12M384 610.5h1M466 610.5h2M470 610.5h1M499 610.5h2M523 610.5h3M674 610.5h1M717 610.5h1M839 610.5h2M847 610.5h3M923 610.5h2M122 611.5h2M223 611.5h4M231 611.5h3M248 611.5h1M297 611.5h1M304 611.5h1M339 611.5h3M365 611.5h2M385 611.5h2M391 611.5h3M464 611.5h2M501 611.5h1M526 611.5h1M675 611.5h7M706 611.5h1M716 611.5h1M718 611.5h2M841 611.5h6M850 611.5h1M922 611.5h1M408 626.5h7M621 584.5h1M1066 584.5h1M1152 584.5h1M1237 584.5h6M619 585.5h2M1063 585.5h3M1151 585.5h1M1195 585.5h3M1235 585.5h2M1243 585.5h4M1251 585.5h3M15 602.5h2M43 602.5h1M67 602.5h1M71 602.5h2M75 602.5h7M156 602.5h1M159 602.5h3M177 602.5h1M202 602.5h1M209 602.5h1M550 602.5h1M570 602.5h1M604 602.5h2M664 602.5h3M694 602.5h2M699 602.5h3M758 602.5h1M802 602.5h2M811 602.5h2M815 602.5h4M830 602.5h1M992 602.5h2M1013 602.5h1M1019 602.5h1M1032 602.5h1M1034 602.5h2M1038 602.5h1M1086 602.5h1M1099 602.5h3M351 617.5h2M354 617.5h1M397 617.5h1M443 617.5h1M454 617.5h1M487 617.5h2M855 617.5h1M890 617.5h2M948 617.5h2M966 617.5h1M22 597.5h1M91 597.5h2M134 597.5h2M142 597.5h1M561 597.5h2M566 597.5h1M639 597.5h1M649 597.5h2M783 597.5h1M787 597.5h1M986 597.5h1M1004 597.5h3M1052 597.5h2M1123 597.5h2M8 606.5h1M63 606.5h1M129 606.5h1M205 606.5h1M269 606.5h1M320 606.5h1M322 606.5h1M379 606.5h3M507 606.5h4M542 606.5h1M573 606.5h2M583 606.5h2M586 606.5h2M591 606.5h3M689 606.5h1M763 606.5h1M835 606.5h1M932 606.5h1M938 606.5h1M1023 606.5h4M1105 606.5h1M18 600.5h1M37 600.5h5M69 600.5h1M84 600.5h3M144 600.5h1M147 600.5h4M154 600.5h1M163 600.5h1M174 600.5h1M179 600.5h2M190 600.5h2M198 600.5h2M555 600.5h2M558 600.5h1M568 600.5h1M643 600.5h3M778 600.5h2M791 600.5h8M822 600.5h2M826 600.5h2M989 600.5h1M996 600.5h3M1011 600.5h1M1015 600.5h2M1040 600.5h1M1042 600.5h2M1046 600.5h2M259 623.5h1M403 623.5h2M860 623.5h1M863 623.5h8M880 623.5h2M907 623.5h3M121 612.5h1M234 612.5h1M249 612.5h1M298 612.5h1M303 612.5h1M342 612.5h1M364 612.5h1M367 612.5h3M387 612.5h4M462 612.5h2M527 612.5h1M707 612.5h2M720 612.5h3M726 612.5h1M767 612.5h1M956 612.5h2M236 615.5h1M345 615.5h5M357 615.5h5M475 615.5h4M483 615.5h3M535 615.5h2M712 615.5h2M769 615.5h4M853 615.5h1M945 615.5h1M951 615.5h2M9 605.5h2M64 605.5h1M204 605.5h1M206 605.5h1M211 605.5h1M321 605.5h1M378 605.5h1M505 605.5h2M543 605.5h1M572 605.5h1M575 605.5h4M582 605.5h1M588 605.5h3M594 605.5h1M687 605.5h2M690 605.5h1M736 605.5h1M834 605.5h1M933 605.5h5M980 605.5h1M1021 605.5h2M1027 605.5h3M1089 605.5h5M1104 605.5h1M1106 605.5h2M60 607.5h1M62 607.5h1M128 607.5h1M242 607.5h4M267 607.5h2M270 607.5h1M287 607.5h7M319 607.5h1M323 607.5h1M382 607.5h1M511 607.5h3M585 607.5h1M836 607.5h1M931 607.5h1M939 607.5h2M974 607.5h1M14 603.5h1M44 603.5h1M55 603.5h3M66 603.5h1M73 603.5h2M157 603.5h2M208 603.5h1M545 603.5h5M597 603.5h2M602 603.5h2M662 603.5h2M693 603.5h1M759 603.5h3M804 603.5h3M810 603.5h1M831 603.5h2M1031 603.5h1M1036 603.5h2M1087 603.5h1M1096 603.5h3M1102 603.5h1M256 621.5h2M401 621.5h1M901 621.5h2M911 621.5h2M914 621.5h2M17 601.5h1M42 601.5h1M68 601.5h1M70 601.5h1M82 601.5h2M145 601.5h2M155 601.5h1M162 601.5h1M175 601.5h2M178 601.5h1M189 601.5h1M200 601.5h2M557 601.5h1M569 601.5h1M667 601.5h2M696 601.5h3M799 601.5h3M813 601.5h2M819 601.5h3M828 601.5h2M990 601.5h2M994 601.5h2M1012 601.5h1M1014 601.5h1M1033 601.5h1M1039 601.5h1M1044 601.5h2M1 609.5h2M6 609.5h1M126 609.5h1M214 609.5h2M273 609.5h2M279 609.5h4M295 609.5h1M306 609.5h2M311 609.5h7M325 609.5h2M468 609.5h2M498 609.5h1M516 609.5h7M728 609.5h1M731 609.5h3M765 609.5h1M838 609.5h1M925 609.5h5M977 609.5h1M350 616.5h1M355 616.5h2M442 616.5h1M479 616.5h4M486 616.5h1M854 616.5h1M946 616.5h2M950 616.5h1M967 616.5h2M613 590.5h1M1057 590.5h1M1078 590.5h2M1144 590.5h2M1205 590.5h2M427 632.5h7M1168 574.5h3M1174 574.5h2M614 589.5h1M1058 589.5h1M1076 589.5h2M1146 589.5h1M1203 589.5h2M1207 589.5h7M622 583.5h2M1067 583.5h2M1070 583.5h1M1153 583.5h5M353 618.5h1M398 618.5h1M444 618.5h1M453 618.5h1M489 618.5h1M856 618.5h1M892 618.5h6M963 618.5h3M624 582.5h6M1069 582.5h1M1158 582.5h2M19 599.5h2M36 599.5h1M87 599.5h3M151 599.5h3M164 599.5h1M171 599.5h3M192 599.5h6M552 599.5h1M554 599.5h1M559 599.5h1M641 599.5h2M646 599.5h1M780 599.5h2M789 599.5h2M824 599.5h2M988 599.5h1M999 599.5h3M1010 599.5h1M1017 599.5h1M1041 599.5h1M1048 599.5h2M1121 599.5h1M299 613.5h2M302 613.5h1M343 613.5h1M363 613.5h1M370 613.5h1M457 613.5h5M472 613.5h1M528 613.5h1M531 613.5h3M709 613.5h1M723 613.5h3M954 613.5h2M301 614.5h1M344 614.5h1M362 614.5h1M371 614.5h2M395 614.5h1M456 614.5h1M473 614.5h2M529 614.5h2M534 614.5h1M710 614.5h2M714 614.5h1M852 614.5h1M953 614.5h1M612 591.5h1M634 591.5h1M1080 591.5h1M1133 591.5h1M1142 591.5h2M1176 573.5h2M260 624.5h1M405 624.5h1M861 624.5h2M871 624.5h4M878 624.5h2M882 624.5h2M96 594.5h10M636 594.5h1M742 594.5h1M750 594.5h1M1115 594.5h3M258 622.5h1M402 622.5h1M447 622.5h1M903 622.5h4M910 622.5h1M916 622.5h1M253 619.5h1M399 619.5h1M445 619.5h1M490 619.5h1M857 619.5h1M898 619.5h1M961 619.5h2M1166 575.5h2M1171 575.5h3M617 587.5h1M1060 587.5h1M1073 587.5h1M1149 587.5h1M1190 587.5h2M1200 587.5h2M1215 587.5h2M1218 587.5h1M1232 587.5h2M1162 580.5h1M1181 580.5h5M610 593.5h1M751 593.5h2M1114 593.5h1M615 588.5h2M1059 588.5h1M1074 588.5h2M1147 588.5h2M1202 588.5h1M1214 588.5h1M1219 588.5h2M1230 588.5h2M420 629.5h2M424 631.5h3M434 631.5h1M415 627.5h3M418 628.5h2M436 628.5h1M406 625.5h2M449 625.5h1M875 625.5h3M884 625.5h1M254 620.5h2M400 620.5h1M491 620.5h2M858 620.5h1M899 620.5h2M913 620.5h1M1165 576.5h1M422 630.5h2M1160 581.5h2M1164 577.5h1M611 592.5h1M1132 592.5h1" stroke="#1e90ff" stroke-width="1" fill="none"/>
<rect x="1" y="692" width="1" height="11" fill="#c0c0c0"/>
<rect x="5" y="698" width="1" height="5" fill="#c0c0c0"/>
<rect x="9" y="701" width="1" height="2" fill="#c0c0c0"/>
<rect x="13" y="702" width="1" height="1" fill="#c0c0c0"/>
<rect x="17" y="701" width="1" height="2" fill="#c0c0c0"/>
<rect x="21" y="699" width="1" height="4" fill="#c0c0c0"/>
<rect x="25" y="695" width="1" height="8" fill="#c0c0c0"/>
<rect x="29" y="693" width="1" height="10" fill="#c0c0c0"/>
<rect x="33" y="691" width="1" height="12" fill="#c0c0c0"/>
<rect x="37" y="692" width="1" height="11" fill="#c0c0c0"/>
<rect x="41" y="692" width="1" height="11" fill="#c0c0c0"/>
<rect x="45" y="695" width="1" height="8" fill="#c0c0c0"/>
<rect x="49" y="697" width="1" height="6" fill="#c0c0c0"/>
<rect x="53" y="699" width="1" height="4" fill="#c0c0c0"/>
<rect x="57" y="700" width="1" height="3" fill="#c0c0c0"/>
<rect x="61" y="702" width="1" height="1" fill="#c0c0c0"/>
<rect x="65" y="702" width="1" height="2" fill="#c0c0c0"/>
<rect x="69" y="702" width="1" height="1" fill="#c0c0c0"/>
<rect x="73" y="702" width="1" height="2" fill="#c0c0c0"/>
<rect x="77" y="702" width="1" height="1" fill="#c0c0c0"/>
<rect x="81" y="702" width="1" height="1" fill="#c0c0c0"/>
<rect x="85" y="702" width="1" height="1" fill="#c0c0c0"/>
<rect x="89" y="701" width="1" height="2" fill="#c0c0c0"/>
<rect x="93" y="699" width="1" height="4" fill="#c0c0c0"/>
<rect x="97" y="697" width="1" height="6" fill="#c0c0c0"/>
<rect x="101" y="696" width="1" height="7" fill="#c0c0c0"/>
<rect x="105" y="694" width="1" height="9" fill="#c0c0c0"/>
<rect x="109" y="694" width="1" height="9" fill="#c0c0c0"/>
<rect x="113" y="693" width="1" height="10" fill="#c0c0c0"/>
<rect x="117" y="696" width="1" height="7" fill="#c0c0c0"/>
<rect x="121" y="700" width="1" height="3" fill="#c0c0c0"/>
<rect x="125" y="702" width="1" height="2" fill="#c0c0c0"/>
<rect x="129" y="702" width="1" height="3" fill="#c0c0c0"/>
<rect x="133" y="702" width="1" height="2" fill="#c0c0c0"/>
<rect x="137" y="701" width="1" height="2" fill="#c0c0c0"/>
<rect x="141" y="699" width="1" height="4" fill="#c0c0c0"/>
<rect x="145" y="699" width="1" height="4" fill="#c0c0c0"/>
<rect x="149" y="699" width="1" height="4" fill="#c0c0c0"/>
<rect x="153" y="699" width="1" height="4" fill="#c0c0c0"/>
<rect x="157" y="700" width="1" height="3" fill="#c0c0c0"/>
<rect x="161" y="701" width="1" height="2" fill="#c0c0c0"/>
<rect x="165" y="700" width="1" height="3" fill="#c0c0c0"/>
<rect x="169" y="699" width="1" height="4" fill="#c0c0c0"/>
<rect x="173" y="699" width="1" height="4" fill="#c0c0c0"/>
<rect x="177" y="700" width="1" height="3" fill="#c0c0c0"/>
<rect x="181" y="699" width="1" height="4" fill="#c0c0c0"/>
<rect x="185" y="702" width="1" height="1" fill="#c0c0c0"/>
<rect x="189" y="702" width="1" height="1" fill="#c0c0c0"/>
<rect x="193" y="701" width="1" height="2" fill="#c0c0c0"/>
<rect x="197" y="701" width="1" height="2" fill="#c0c0c0"/>
<rect x="201" y="701" width="1" height="2" fill="#c0c0c0"/>
<rect x="205" y="702" width="1" height="1" fill="#c0c0c0"/>
<rect x="209" y="702" width="1" height="1" fill="#c0c0c0"/>
<rect x="213" y="702" width="1" height="3" fill="#c0c0c0"/>
<rect x="217" y="702" width="1" height="6" fill="#c0c0c0"/>
<rect x="221" y="702" width="1" height="7" fill="#c0c0c0"/>
<rect x="225" y="702" width="1" height="9" fill="#c0c0c0"/>
<rect x="229" y="702" width="1" height="10" fill="#c0c0c0"/>
<rect x="233" y="702" width="1" height="11" fill="#c0c0c0"/>
<rect x="237" y="702" width="1" height="13" fill="#c0c0c0"/>
<rect x="241" y="702" width="1" height="13" fill="#c0c0c0"/>
<rect x="245" y="702" width="1" height="12" fill="#c0c0c0"/>
<rect x="249" y="702" width="1" height="14" fill="#c0c0c0"/>
<rect x="253" y="702" width="1" height="18" fill="#c0c0c0"/>
<rect x="257" y="702" width="1" height="22" fill="#c0c0c0"/>
<rect x="261" y="702" width="1" height="27" fill="#c0c0c0"/>
<rect x="265" y="702" width="1" height="27" fill="#c0c0c0"/>
<rect x="269" y="702" width="1" height="25" fill="#c0c0c0"/>
<rect x="273" y="702" width="1" height="24" fill="#c0c0c0"/>
<rect x="277" y="702" width="1" height="24" fill="#c0c0c0"/>
<rect x="281" y="702" width="1" height="23" fill="#c0c0c0"/>
<rect x="285" y="702" width="1" height="22" fill="#c0c0c0"/>
<rect x="289" y="702" width="1" height="21" fill="#c0c0c0"/>
<rect x="293" y="702" width="1" height="20" fill="#c0c0c0"/>
<rect x="297" y="702" width="1" height="20" fill="#c0c0c0"/>
<rect x="301" y="702" width="1" height="21" fill="#c0c0c0"/>
<rect x="305" y="702" width="1" height="21" fill="#c0c0c0"/>
<rect x="309" y="702" width="1" height="20" fill="#c0c0c0"/>
<rect x="313" y="702" width="1" height="19" fill="#c0c0c0"/>
<rect x="317" y="702" width="1" height="18" fill="#c0c0c0"/>
<rect x="321" y="702" width="1" height="17" fill="#c0c0c0"/>
<rect x="325" y="702" width="1" height="16" fill="#c0c0c0"/>
<rect x="329" y="702" width="1" height="16" fill="#c0c0c0"/>
<rect x="333" y="702" width="1" height="16" fill="#c0c0c0"/>
<rect x="337" y="702" width="1" height="16" fill="#c0c0c0"/>
<rect x="341" y="702" width="1" height="16" fill="#c0c0c0"/>
<rect x="345" y="702" width="1" height="17" fill="#c0c0c0"/>
<rect x="349" y="702" width="1" height="18" fill="#c0c0c0"/>
<rect x="353" y="702" width="1" height="19" fill="#c0c0c0"/>
<rect x="357" y="702" width="1" height="19" fill="#c0c0c0"/>
<rect x="361" y="702" width="1" height="19" fill="#c0c0c0"/>
<rect x="365" y="702" width="1" height="19" fill="#c0c0c0"/>
<rect x="369" y="702" width="1" height="18" fill="#c0c0c0"/>
<rect x="373" y="702" width="1" height="18" fill="#c0c0c0"/>
<rect x="377" y="702" width="1" height="16" fill="#c0c0c0"/>
<rect x="381" y="702" width="1" height="15" fill="#c0c0c0"/>
<rect x="385" y="702" width="1" height="15" fill="#c0c0c0"/>
<rect x="389" y="702" width="1" height="15" fill="#c0c0c0"/>
<rect x="393" y="702" width="1" height="15" fill="#c0c0c0"/>
<rect x="397" y="702" width="1" height="16" fill="#c0c0c0"/>
<rect x="401" y="702" width="1" height="19" fill="#c0c0c0"/>
<rect x="405" y="702" width="1" height="23" fill="#c0c0c0"/>
<rect x="409" y="702" width="1" height="26" fill="#c0c0c0"/>
<rect x="413" y="702" width="1" height="28" fill="#c0c0c0"/>
<rect x="417" y="702" width="1" height="31" fill="#c0c0c0"/>
<rect x="421" y="702" width="1" height="33" fill="#c0c0c0"/>
<rect x="425" y="702" width="1" height="36" fill="#c0c0c0"/>
<rect x="429" y="702" width="1" height="38" fill="#c0c0c0"/>
<rect x="433" y="702" width="1" height="40" fill="#c0c0c0"/>
<rect x="437" y="702" width="1" height="40" fill="#c0c0c0"/>
<rect x="441" y="702" width="1" height="38" fill="#c0c0c0"/>
<rect x="445" y="702" width="1" height="37" fill="#c0c0c0"/>
<rect x="449" y="702" width="1" height="40" fill="#c0c0c0"/>
<rect x="453" y="702" width="1" height="39" fill="#c0c0c0"/>
<rect x="457" y="702" width="1" height="37" fill="#c0c0c0"/>
<rect x="461" y="702" width="1" height="36" fill="#c0c0c0"/>
<rect x="465" y="702" width="1" height="33" fill="#c0c0c0"/>
<rect x="469" y="702" width="1" height="31" fill="#c0c0c0"/>
<rect x="473" y="702" width="1" height="30" fill="#c0c0c0"/>
<rect x="477" y="702" width="1" height="30" fill="#c0c0c0"/>
<rect x="481" y="702" width="1" height="29" fill="#c0c0c0"/>
<rect x="485" y="702" width="1" height="29" fill="#c0c0c0"/>
<rect x="489" y="702" width="1" height="29" fill="#c0c0c0"/>
<rect x="493" y="702" width="1" height="30" fill="#c0c0c0"/>
<rect x="497" y="702" width="1" height="28" fill="#c0c0c0"/>
<rect x="501" y="702" width="1" height="27" fill="#c0c0c0"/>
<rect x="505" y="702" width="1" height="24" fill="#c0c0c0"/>
<rect x="509" y="702" width="1" height="21" fill="#c0c0c0"/>
<rect x="513" y="702" width="1" height="20" fill="#c0c0c0"/>
<rect x="517" y="702" width="1" height="19" fill="#c0c0c0"/>
<rect x="521" y="702" width="1" height="18" fill="#c0c0c0"/>
<rect x="525" y="702" width="1" height="18" fill="#c0c0c0"/>
<rect x="529" y="702" width="1" height="19" fill="#c0c0c0"/>
<rect x="533" y="702" width="1" height="19" fill="#c0c0c0"/>
<rect x="537" y="702" width="1" height="20" fill="#c0c0c0"/>
<rect x="541" y="702" width="1" height="19" fill="#c0c0c0"/>
<rect x="545" y="702" width="1" height="16" fill="#c0c0c0"/>
<rect x="549" y="702" width="1" height="14" fill="#c0c0c0"/>
<rect x="553" y="702" width="1" height="11" fill="#c0c0c0"/>
<rect x="557" y="702" width="1" height="9" fill="#c0c0c0"/>
<rect x="561" y="702" width="1" height="6" fill="#c0c0c0"/>
<rect x="565" y="702" width="1" height="4" fill="#c0c0c0"/>
<rect x="569" y="702" width="1" height="3" fill="#c0c0c0"/>
<rect x="573" y="702" width="1" height="4" fill="#c0c0c0"/>
<rect x="577" y="702" width="1" height="5" fill="#c0c0c0"/>
<rect x="581" y="702" width="1" height="5" fill="#c0c0c0"/>
<rect x="585" y="702" width="1" height="6" fill="#c0c0c0"/>
<rect x="589" y="702" width="1" height="6" fill="#c0c0c0"/>
<rect x="593" y="702" width="1" height="6" fill="#c0c0c0"/>
<rect x="597" y="702" width="1" height="6" fill="#c0c0c0"/>
<rect x="601" y="702" width="1" height="6" fill="#c0c0c0"/>
<rect x="605" y="702" width="1" height="5" fill="#c0c0c0"/>
<rect x="609" y="702" width="1" height="2" fill="#c0c0c0"/>
<rect x="613" y="701" width="1" height="2" fill="#c0c0c0"/>
<rect x="617" y="697" width="1" height="6" fill="#c0c0c0"/>
<rect x="621" y="693" width="1" height="10" fill="#c0c0c0"/>
<rect x="625" y="689" width="1" height="14" fill="#c0c0c0"/>
<rect x="629" y="686" width="1" height="17" fill="#c0c0c0"/>
<rect x="633" y="685" width="1" height="18" fill="#c0c0c0"/>
<rect x="637" y="686" width="1" height="17" fill="#c0c0c0"/>
<rect x="641" y="688" width="1" height="15" fill="#c0c0c0"/>
<rect x="645" y="690" width="1" height="13" fill="#c0c0c0"/>
<rect x="649" y="690" width="1" height="13" fill="#c0c0c0"/>
<rect x="653" y="691" width="1" height="12" fill="#c0c0c0"/>
<rect x="657" y="693" width="1" height="10" fill="#c0c0c0"/>
<rect x="661" y="696" width="1" height="7" fill="#c0c0c0"/>
<rect x="665" y="697" width="1" height="6" fill="#c0c0c0"/>
<rect x="669" y="698" width="1" height="5" fill="#c0c0c0"/>
<rect x="673" y="701" width="1" height="2" fill="#c0c0c0"/>
<rect x="677" y="702" width="1" height="2" fill="#c0c0c0"/>
<rect x="681" y="702" width="1" height="4" fill="#c0c0c0"/>
<rect x="685" y="702" width="1" height="4" fill="#c0c0c0"/>
<rect x="689" y="702" width="1" height="5" fill="#c0c0c0"/>
<rect x="693" y="702" width="1" height="5" fill="#c0c0c0"/>
<rect x="697" y="702" width="1" height="4" fill="#c0c0c0"/>
<rect x="701" y="702" width="1" height="4" fill="#c0c0c0"/>
<rect x="705" y="702" width="1" height="5" fill="#c0c0c0"/>
<rect x="709" y="702" width="1" height="8" fill="#c0c0c0"/>
<rect x="713" y="702" width="1" height="10" fill="#c0c0c0"/>
<rect x="717" y="702" width="1" height="11" fill="#c0c0c0"/>
<rect x="721" y="702" width="1" height="12" fill="#c0c0c0"/>
<rect x="725" y="702" width="1" height="13" fill="#c0c0c0"/>
<rect x="729" y="702" width="1" height="13" fill="#c0c0c0"/>
<rect x="733" y="702" width="1" height="13" fill="#c0c0c0"/>
<rect x="737" y="702" width="1" height="12" fill="#c0c0c0"/>
<rect x="741" y="702" width="1" height="8" fill="#c0c0c0"/>
<rect x="745" y="702" width="1" height="5" fill="#c0c0c0"/>
<rect x="749" y="702" width="1" height="3" fill="#c0c0c0"/>
<rect x="753" y="701" width="1" height="2" fill="#c0c0c0"/>
<rect x="757" y="702" width="1" height="1" fill="#c0c0c0"/>
<rect x="761" y="702" width="1" height="1" fill="#c0c0c0"/>
<rect x="765" y="702" width="1" height="3" fill="#c0c0c0"/>
<rect x="769" y="702" width="1" height="7" fill="#c0c0c0"/>
<rect x="773" y="702" width="1" height="11" fill="#c0c0c0"/>
<rect x="777" y="702" width="1" height="9" fill="#c0c0c0"/>
<rect x="781" y="702" width="1" height="7" fill="#c0c0c0"/>
<rect x="785" y="702" width="1" height="3" fill="#c0c0c0"/>
<rect x="789" y="702" width="1" height="2" fill="#c0c0c0"/>
<rect x="793" y="702" width="1" height="1" fill="#c0c0c0"/>
<rect x="797" y="702" width="1" height="1" fill="#c0c0c0"/>
<rect x="801" y="702" width="1" height="1" fill="#c0c0c0"/>
<rect x="805" y="702" width="1" height="1" fill="#c0c0c0"/>
<rect x="809" y="702" width="1" height="2" fill="#c0c0c0"/>
<rect x="813" y="702" width="1" height="1" fill="#c0c0c0"/>
<rect x="817" y="702" width="1" height="1" fill="#c0c0c0"/>
<rect x="821" y="702" width="1" height="1" fill="#c0c0c0"/>
<rect x="825" y="702" width="1" height="1" fill="#c0c0c0"/>
<rect x="829" y="702" width="1" height="1" fill="#c0c0c0"/>
<rect x="833" y="702" width="1" height="1" fill="#c0c0c0"/>
<rect x="837" y="702" width="1" height="3" fill="#c0c0c0"/>
<rect x="841" y="702" width="1" height="5" fill="#c0c0c0"/>
<rect x="845" y="702" width="1" height="6" fill="#c0c0c0"/>
<rect x="849" y="702" width="1" height="7" fill="#c0c0c0"/>
<rect x="853" y="702" width="1" height="10" fill="#c0c0c0"/>
<rect x="857" y="702" width="1" height="13" fill="#c0c0c0"/>
<rect x="861" y="702" width="1" height="18" fill="#c0c0c0"/>
<rect x="865" y="702" width="1" height="21" fill="#c0c0c0"/>
<rect x="869" y="702" width="1" height="23" fill="#c0c0c0"/>
<rect x="873" y="702" width="1" height="25" fill="#c0c0c0"/>
<rect x="877" y="702" width="1" height="27" fill="#c0c0c0"/>
<rect x="881" y="702" width="1" height="28" fill="#c0c0c0"/>
<rect x="885" y="702" width="1" height="29" fill="#c0c0c0"/>
<rect x="889" y="702" width="1" height="28" fill="#c0c0c0"/>
<rect x="893" y="702" width="1" height="28" fill="#c0c0c0"/>
<rect x="897" y="702" width="1" height="27" fill="#c0c0c0"/>
<rect x="901" y="702" width="1" height="27" fill="#c0c0c0"/>
<rect x="905" y="702" width="1" height="28" fill="#c0c0c0"/>
<rect x="909" y="702" width="1" height="28" fill="#c0c0c0"/>
<rect x="913" y="702" width="1" height="27" fill="#c0c0c0"/>
<rect x="917" y="702" width="1" height="27" fill="#c0c0c0"/>
<rect x="921" y="702" width="1" height="26" fill="#c0c0c0"/>
<rect x="925" y="702" width="1" height="23" fill="#c0c0c0"/>
<rect x="929" y="702" width="1" height="21" fill="#c0c0c0"/>
<rect x="933" y="702" width="1" height="19" fill="#c0c0c0"/>
<rect x="937" y="702" width="1" height="16" fill="#c0c0c0"/>
<rect x="941" y="702" width="1" height="15" fill="#c0c0c0"/>
<rect x="945" y="702" width="1" height="16" fill="#c0c0c0"/>
<rect x="949" y="702" width="1" height="17" fill="#c0c0c0"/>
<rect x="953" y="702" width="1" height="17" fill="#c0c0c0"/>
<rect x="957" y="702" width="1" height="17" fill="#c0c0c0"/>
<rect x="961" y="702" width="1" height="18" fill="#c0c0c0"/>
<rect x="965" y="702" width="1" height="19" fill="#c0c0c0"/>
<rect x="969" y="702" width="1" height="19" fill="#c0c0c0"/>
<rect x="973" y="702" width="1" height="17" fill="#c0c0c0"/>
<rect x="977" y="702" width="1" height="16" fill="#c0c0c0"/>
<rect x="981" y="702" width="1" height="14" fill="#c0c0c0"/>
<rect x="985" y="702" width="1" height="11" fill="#c0c0c0"/>
<rect x="989" y="702" width="1" height="9" fill="#c0c0c0"/>
<rect x="993" y="702" width="1" height="8" fill="#c0c0c0"/>
<rect x="997" y="702" width="1" height="6" fill="#c0c0c0"/>
<rect x="1001" y="702" width="1" height="5" fill="#c0c0c0"/>
<rect x="1005" y="702" width="1" height="3" fill="#c0c0c0"/>
<rect x="1009" y="702" width="1" height="2" fill="#c0c0c0"/>
<rect x="1013" y="702" width="1" height="2" fill="#c0c0c0"/>
<rect x="1017" y="702" width="1" height="1" fill="#c0c0c0"/>
<rect x="1021" y="702" width="1" height="2" fill="#c0c0c0"/>
<rect x="1025" y="702" width="1" height="3" fill="#c0c0c0"/>
<rect x="1029" y="702" width="1" height="3" fill="#c0c0c0"/>
<rect x="1033" y="702" width="1" height="3" fill="#c0c0c0"/>
<rect x="1037" y="702" width="1" height="3" fill="#c0c0c0"/>
<rect x="1041" y="702" width="1" height="2" fill="#c0c0c0"/>
<rect x="1045" y="702" width="1" height="2" fill="#c0c0c0"/>
<rect x="1049" y="702" width="1" height="1" fill="#c0c0c0"/>
<rect x="1053" y="702" width="1" height="1" fill="#c0c0c0"/>
<rect x="1057" y="699" width="1" height="4" fill="#c0c0c0"/>
<rect x="1061" y="696" width="1" height="7" fill="#c0c0c0"/>
<rect x="1065" y="694" width="1" height="9" fill="#c0c0c0"/>
<rect x="1069" y="690" width="1" height="13" fill="#c0c0c0"/>
<rect x="1073" y="689" width="1" height="14" fill="#c0c0c0"/>
<rect x="1077" y="688" width="1" height="15" fill="#c0c0c0"/>
<rect x="1081" y="688" width="1" height="15" fill="#c0c0c0"/>
<rect x="1085" y="690" width="1" height="13" fill="#c0c0c0"/>
<rect x="1089" y="693" width="1" height="10" fill="#c0c0c0"/>
<rect x="1093" y="695" width="1" height="8" fill="#c0c0c0"/>
<rect x="1097" y="697" width="1" height="6" fill="#c0c0c0"/>
<rect x="1101" y="698" width="1" height="5" fill="#c0c0c0"/>
<rect x="1105" y="700" width="1" height="3" fill="#c0c0c0"/>
<rect x="1109" y="701" width="1" height="2" fill="#c0c0c0"/>
<rect x="1113" y="699" width="1" height="4" fill="#c0c0c0"/>
<rect x="1117" y="698" width="1" height="5" fill="#c0c0c0"/>
<rect x="1121" y="698" width="1" height="5" fill="#c0c0c0"/>
<rect x="1125" y="697" width="1" height="6" fill="#c0c0c0"/>
<rect x="1129" y="697" width="1" height="6" fill="#c0c0c0"/>
<rect x="1133" y="695" width="1" height="8" fill="#c0c0c0"/>
<rect x="1137" y="691" width="1" height="12" fill="#c0c0c0"/>
<rect x="1141" y="690" width="1" height="13" fill="#c0c0c0"/>
<rect x="1145" y="688" width="1" height="15" fill="#c0c0c0"/>
<rect x="1149" y="686" width="1" height="17" fill="#c0c0c0"/>
<rect x="1153" y="683" width="1" height="20" fill="#c0c0c0"/>
<rect x="1157" y="680" width="1" height="23" fill="#c0c0c0"/>
<rect x="1161" y="677" width="1" height="26" fill="#c0c0c0"/>
<rect x="1165" y="673" width="1" height="30" fill="#c0c0c0"/>
<rect x="1169" y="667" width="1" height="36" fill="#c0c0c0"/>
<rect x="1173" y="663" width="1" height="40" fill="#c0c0c0"/>
<rect x="1177" y="659" width="1" height="44" fill="#c0c0c0"/>
<rect x="1181" y="658" width="1" height="45" fill="#c0c0c0"/>
<rect x="1185" y="657" width="1" height="46" fill="#c0c0c0"/>
<rect x="1189" y="660" width="1" height="43" fill="#c0c0c0"/>
<rect x="1193" y="660" width="1" height="43" fill="#c0c0c0"/>
<rect x="1197" y="661" width="1" height="42" fill="#c0c0c0"/>
<rect x="1201" y="663" width="1" height="40" fill="#c0c0c0"/>
<rect x="1205" y="666" width="1" height="37" fill="#c0c0c0"/>
<rect x="1209" y="667" width="1" height="36" fill="#c0c0c0"/>
<rect x="1213" y="669" width="1" height="34" fill="#c0c0c0"/>
<rect x="1217" y="670" width="1" height="33" fill="#c0c0c0"/>
<rect x="1221" y="672" width="1" height="31" fill="#c0c0c0"/>
<rect x="1225" y="675" width="1" height="28" fill="#c0c0c0"/>
<rect x="1229" y="675" width="1" height="28" fill="#c0c0c0"/>
<rect x="1233" y="674" width="1" height="29" fill="#c0c0c0"/>
<rect x="1237" y="673" width="1" height="30" fill="#c0c0c0"/>
<rect x="1241" y="671" width="1" height="32" fill="#c0c0c0"/>
<rect x="1245" y="671" width="1" height="32" fill="#c0c0c0"/>
<rect x="1249" y="672" width="1" height="31" fill="#c0c0c0"/>
<rect x="1253" y="672" width="1" height="31" fill="#c0c0c0"/>
<path d="M79 701.5h3M97 701.5h2M151 701.5h3M157 701.5h2M207 701.5h1M211 701.5h3M625 701.5h1M691 701.5h3M1063 701.5h1M26 695.5h2M43 695.5h3M61 695.5h2M1111 695.5h3M1142 695.5h2M278 723.5h2M301 723.5h3M943 723.5h1M231 706.5h1M589 706.5h3M595 706.5h3M601 706.5h3M607 706.5h3M613 706.5h1M711 706.5h1M763 706.5h3M787 706.5h3M793 706.5h3M855 706.5h1M1016 706.5h2M235 707.5h1M583 707.5h3M715 707.5h3M759 707.5h1M859 707.5h1M1015 707.5h1M265 718.5h1M339 718.5h1M343 718.5h3M349 718.5h3M355 718.5h3M361 718.5h2M387 718.5h1M391 718.5h3M403 718.5h3M553 718.5h2M877 718.5h1M961 718.5h3M967 718.5h3M973 718.5h3M979 718.5h3M229 705.5h2M614 705.5h2M704 705.5h2M709 705.5h2M769 705.5h3M775 705.5h3M781 705.5h3M799 705.5h3M805 705.5h2M853 705.5h2M1021 705.5h3M511 727.5h3M895 727.5h3M927 727.5h1M75 700.5h1M99 700.5h1M145 700.5h3M159 700.5h1M163 700.5h3M187 700.5h3M193 700.5h3M199 700.5h3M205 700.5h2M626 700.5h1M1064 700.5h2M277 722.5h1M307 722.5h3M313 722.5h2M416 722.5h2M529 722.5h2M884 722.5h2M944 722.5h2M219 703.5h1M619 703.5h3M697 703.5h3M811 703.5h3M841 703.5h3M1035 703.5h1M1039 703.5h3M1045 703.5h3M1051 703.5h3M1057 703.5h2M266 719.5h2M331 719.5h3M337 719.5h2M363 719.5h1M367 719.5h3M373 719.5h3M379 719.5h3M385 719.5h2M409 719.5h2M547 719.5h3M878 719.5h2M955 719.5h3M451 739.5h3M457 739.5h3M463 739.5h3M1185 668.5h1M1227 668.5h1M439 735.5h1M481 735.5h2M67 697.5h1M111 697.5h1M123 697.5h1M127 697.5h3M631 697.5h1M680 697.5h2M1119 697.5h1M1123 697.5h3M1131 697.5h1M1135 697.5h3M1 690.5h2M15 690.5h1M643 690.5h3M663 690.5h1M1154 690.5h2M73 699.5h2M103 699.5h3M139 699.5h3M169 699.5h3M175 699.5h3M181 699.5h3M627 699.5h1M686 699.5h2M1069 699.5h1M271 721.5h3M315 721.5h1M319 721.5h3M415 721.5h1M531 721.5h1M535 721.5h3M883 721.5h1M949 721.5h2M283 725.5h3M289 725.5h3M422 725.5h2M519 725.5h1M890 725.5h2M937 725.5h2M68 698.5h2M109 698.5h2M133 698.5h3M685 698.5h1M1070 698.5h2M1129 698.5h2M3 689.5h1M7 689.5h3M13 689.5h2M649 689.5h2M661 689.5h2M517 726.5h2M931 726.5h3M1178 674.5h1M735 712.5h1M739 712.5h3M745 712.5h2M867 712.5h1M1003 712.5h1M434 732.5h1M493 732.5h2M85 702.5h3M91 702.5h3M217 702.5h2M817 702.5h3M823 702.5h3M829 702.5h3M835 702.5h3M1059 702.5h1M499 730.5h3M247 711.5h3M571 711.5h3M733 711.5h2M747 711.5h1M866 711.5h1M1004 711.5h2M241 709.5h2M577 709.5h2M723 709.5h1M1009 709.5h2M31 696.5h3M37 696.5h3M63 696.5h1M115 696.5h3M121 696.5h2M632 696.5h2M679 696.5h1M1075 696.5h3M1117 696.5h2M1141 696.5h1M295 724.5h3M421 724.5h1M523 724.5h3M889 724.5h1M939 724.5h1M427 728.5h2M507 728.5h1M901 728.5h3M919 728.5h3M925 728.5h2M25 694.5h1M49 694.5h3M55 694.5h3M674 694.5h2M1081 694.5h1M1107 694.5h1M255 714.5h1M565 714.5h1M871 714.5h1M997 714.5h2M223 704.5h3M703 704.5h1M807 704.5h1M847 704.5h3M1027 704.5h3M1033 704.5h2M259 715.5h1M872 715.5h2M19 691.5h1M667 691.5h3M1093 691.5h3M1153 691.5h1M435 733.5h1M487 733.5h3M1215 663.5h1M20 692.5h2M638 692.5h2M1087 692.5h3M1099 692.5h3M445 737.5h2M471 737.5h1M325 720.5h3M411 720.5h1M541 720.5h3M951 720.5h1M440 736.5h2M475 736.5h3M243 710.5h1M727 710.5h3M751 710.5h3M865 710.5h1M429 729.5h1M505 729.5h2M907 729.5h3M913 729.5h3M1232 670.5h2M1239 672.5h1M1243 672.5h3M1249 672.5h3M1191 664.5h1M1219 664.5h1M1160 687.5h2M1225 667.5h2M397 717.5h3M555 717.5h1M985 717.5h2M1165 684.5h1M1195 662.5h3M1213 662.5h2M236 708.5h2M579 708.5h1M721 708.5h2M757 708.5h2M860 708.5h2M1011 708.5h1M260 716.5h2M559 716.5h3M987 716.5h1M991 716.5h3M637 693.5h1M673 693.5h1M1082 693.5h2M1105 693.5h2M1147 693.5h3M253 713.5h2M566 713.5h2M999 713.5h1M1237 671.5h2M1203 660.5h1M651 688.5h1M655 688.5h3M1159 688.5h1M1167 682.5h1M1201 661.5h2M1207 661.5h3M447 738.5h1M469 738.5h2M1171 679.5h2M1190 665.5h1M1220 665.5h2M1183 669.5h2M1231 669.5h1M433 731.5h1M495 731.5h1M1173 678.5h1M483 734.5h1M1177 675.5h1M1166 683.5h1M1179 673.5h1M1189 666.5h1" stroke="#ff0000" stroke-width="1" fill="none"/>
<rect x="0" y="24" width="1578" height="1" fill="#000"/>
<rect x="0" y="24" width="1" height="528" fill="#000"/>
<rect x="0" y="553" width="1" height="97" fill="#000"/>
<rect x="0" y="651" width="1" height="97" fill="#000"/>
<rect x="1577" y="24" width="1" height="528" fill="#000"/>
<rect x="1577" y="553" width="1" height="97" fill="#000"/>
<rect x="1577" y="651" width="1" height="97" fill="#000"/>
<rect x="0" y="551" width="1578" height="1" fill="#000"/>
<rect x="0" y="553" width="1578" height="1" fill="#000"/>
<rect x="0" y="649" width="1578" height="1" fill="#000"/>
<rect x="0" y="651" width="1578" height="1" fill="#000"/>
<rect x="0" y="747" width="1578" height="1" fill="#000"/>
<rect x="1578" y="53" width="2" height="1" fill="#000"/>
<text class="ax" x="1583.3" y="56.9" textLength="32.4" lengthAdjust="spacingAndGlyphs">0.97960</text>
<rect x="1578" y="86" width="2" height="1" fill="#000"/>
<text class="ax" x="1583.3" y="90.0" textLength="32.4" lengthAdjust="spacingAndGlyphs">0.97260</text>
<rect x="1578" y="119" width="2" height="1" fill="#000"/>
<text class="ax" x="1583.3" y="123.0" textLength="32.4" lengthAdjust="spacingAndGlyphs">0.96540</text>
<rect x="1578" y="152" width="2" height="1" fill="#000"/>
<text class="ax" x="1583.3" y="156.0" textLength="32.4" lengthAdjust="spacingAndGlyphs">0.95840</text>
<rect x="1578" y="185" width="2" height="1" fill="#000"/>
<text class="ax" x="1583.3" y="189.0" textLength="32.4" lengthAdjust="spacingAndGlyphs">0.95140</text>
<rect x="1578" y="218" width="2" height="1" fill="#000"/>
<text class="ax" x="1583.3" y="221.9" textLength="32.4" lengthAdjust="spacingAndGlyphs">0.94420</text>
<rect x="1578" y="251" width="2" height="1" fill="#000"/>
<text class="ax" x="1583.3" y="254.9" textLength="32.4" lengthAdjust="spacingAndGlyphs">0.93720</text>
<rect x="1578" y="317" width="2" height="1" fill="#000"/>
<text class="ax" x="1583.3" y="320.8" textLength="32.4" lengthAdjust="spacingAndGlyphs">0.92300</text>
<rect x="1578" y="350" width="2" height="1" fill="#000"/>
<text class="ax" x="1583.3" y="353.8" textLength="32.4" lengthAdjust="spacingAndGlyphs">0.91600</text>
<rect x="1578" y="383" width="2" height="1" fill="#000"/>
<text class="ax" x="1583.3" y="386.8" textLength="32.4" lengthAdjust="spacingAndGlyphs">0.90880</text>
<rect x="1578" y="416" width="2" height="1" fill="#000"/>
<text class="ax" x="1583.3" y="419.7" textLength="32.4" lengthAdjust="spacingAndGlyphs">0.90180</text>
<rect x="1578" y="449" width="2" height="1" fill="#000"/>
<text class="ax" x="1583.3" y="452.7" textLength="32.4" lengthAdjust="spacingAndGlyphs">0.89480</text>
<rect x="1578" y="515" width="2" height="1" fill="#000"/>
<text class="ax" x="1583.3" y="518.5" textLength="32.4" lengthAdjust="spacingAndGlyphs">0.88060</text>
<rect x="1578" y="548" width="2" height="1" fill="#000"/>
<text class="ax" x="1583.3" y="551.5" textLength="32.4" lengthAdjust="spacingAndGlyphs">0.87360</text>
<text class="ax" x="1581.6" y="564.0">100</text>
<text class="ax" x="1581.6" y="586.7">70</text>
<text class="ax" x="1581.6" y="623.7">30</text>
<text class="ax" x="1581.6" y="645.9">0</text>
<rect x="1578" y="583" width="2" height="1" fill="#000"/>
<rect x="1578" y="620" width="2" height="1" fill="#000"/>
<rect x="1578" y="555" width="1" height="1" fill="#000"/>
<rect x="1578" y="648" width="1" height="1" fill="#000"/>
<text class="ax" x="1581.6" y="662.0">0.010933</text>
<text class="ax" x="1581.6" y="705.9">0.00</text>
<text class="ax" x="1581.6" y="744.3">-0.009653</text>
<rect x="1578" y="702" width="2" height="1" fill="#000"/>
<rect x="1578" y="653" width="1" height="1" fill="#000"/>
<rect x="1578" y="746" width="1" height="1" fill="#000"/>
<rect x="0" y="206" width="1578" height="2" fill="#ff0000"/>
<rect x="0" y="204" width="6" height="6" fill="#ff0000"/>
<rect x="2" y="206" width="2" height="2" fill="#fff"/>
<rect x="1571" y="204" width="7" height="6" fill="#ff0000"/>
<rect x="1573" y="206" width="2" height="2" fill="#fff"/>
<rect x="1579" y="201" width="41" height="11" fill="#ff0000"/>
<text class="lbw" x="1583.3" y="210.2" textLength="32.4" lengthAdjust="spacingAndGlyphs">0.94651</text>
<rect x="0" y="283" width="1578" height="2" fill="#ff0000"/>
<rect x="1579" y="278" width="41" height="11" fill="#ff0000"/>
<text class="lbw" x="1583.3" y="287.2" textLength="32.4" lengthAdjust="spacingAndGlyphs">0.93001</text>
<rect x="0" y="344" width="1578" height="2" fill="#00ff00"/>
<rect x="0" y="342" width="6" height="6" fill="#00ff00"/>
<rect x="2" y="344" width="2" height="2" fill="#fff"/>
<rect x="1571" y="342" width="7" height="6" fill="#00ff00"/>
<rect x="1573" y="344" width="2" height="2" fill="#fff"/>
<rect x="1579" y="339" width="41" height="11" fill="#00ff00"/>
<text class="lbw" x="1583.3" y="348.2" textLength="32.4" lengthAdjust="spacingAndGlyphs">0.91709</text>
<rect x="0" y="421" width="1578" height="2" fill="#0000ff"/>
<rect x="0" y="419" width="6" height="6" fill="#0000ff"/>
<rect x="2" y="421" width="2" height="2" fill="#fff"/>
<rect x="1571" y="419" width="7" height="6" fill="#0000ff"/>
<rect x="1573" y="421" width="2" height="2" fill="#fff"/>
<rect x="1579" y="416" width="41" height="11" fill="#0000ff"/>
<text class="lbw" x="1583.3" y="425.2" textLength="32.4" lengthAdjust="spacingAndGlyphs">0.90055</text>
<rect x="0" y="484" width="1578" height="2" fill="#0000ff"/>
<rect x="0" y="482" width="6" height="6" fill="#0000ff"/>
<rect x="2" y="484" width="2" height="2" fill="#fff"/>
<rect x="1571" y="482" width="7" height="6" fill="#0000ff"/>
<rect x="1573" y="484" width="2" height="2" fill="#fff"/>
<rect x="1579" y="479" width="41" height="11" fill="#0000ff"/>
<text class="lbw" x="1583.3" y="488.2" textLength="32.4" lengthAdjust="spacingAndGlyphs">0.88703</text>
<rect x="0" y="540" width="1578" height="2" fill="#0000ff"/>
<rect x="0" y="538" width="6" height="6" fill="#0000ff"/>
<rect x="2" y="540" width="2" height="2" fill="#fff"/>
<rect x="1571" y="538" width="7" height="6" fill="#0000ff"/>
<rect x="1573" y="540" width="2" height="2" fill="#fff"/>
<rect x="1579" y="535" width="41" height="11" fill="#0000ff"/>
<text class="lbw" x="1583.3" y="544.2" textLength="32.4" lengthAdjust="spacingAndGlyphs">0.87513</text>
<rect x="1579" y="237" width="41" height="11" fill="#000"/>
<text class="lbw" x="1583.3" y="246.2" textLength="32.4" lengthAdjust="spacingAndGlyphs">0.93920</text>
<path d="M4 31 L11.3 31 L7.65 35.3 Z" fill="#000" shape-rendering="geometricPrecision"/>
<text class="ax" x="15.8" y="36" textLength="65.2" lengthAdjust="spacingAndGlyphs">USDCHF,Daily</text>
<text class="ax" x="86.6" y="36" textLength="33.1" lengthAdjust="spacingAndGlyphs">0.93803</text>
<text class="ax" x="122.8" y="36" textLength="33.1" lengthAdjust="spacingAndGlyphs">0.93963</text>
<text class="ax" x="158.8" y="36" textLength="32.7" lengthAdjust="spacingAndGlyphs">0.93761</text>
<text class="ax" x="194.8" y="36" textLength="32.9" lengthAdjust="spacingAndGlyphs">0.93920</text>
<text class="ax" x="5" y="565.8" textLength="68.0" lengthAdjust="spacingAndGlyphs">RSI(14) 67.2537</text>
<text class="ax" x="5" y="664.2" textLength="148.0" lengthAdjust="spacingAndGlyphs">MACD(12,26,9) 0.006792 0.006566</text>
<rect x="1" y="748" width="1" height="3" fill="#000"/>
<text class="ax" x="1.2" y="760" textLength="50.7" lengthAdjust="spacingAndGlyphs">27 Mar 2020</text>
<rect x="65" y="748" width="1" height="3" fill="#000"/>
<text class="ax" x="64.7" y="760" textLength="50.7" lengthAdjust="spacingAndGlyphs">15 Apr 2020</text>
<rect x="129" y="748" width="1" height="3" fill="#000"/>
<text class="ax" x="128.7" y="760" textLength="49.4" lengthAdjust="spacingAndGlyphs">4 May 2020</text>
<rect x="193" y="748" width="1" height="3" fill="#000"/>
<text class="ax" x="192.7" y="760" textLength="54.0" lengthAdjust="spacingAndGlyphs">22 May 2020</text>
<rect x="257" y="748" width="1" height="3" fill="#000"/>
<text class="ax" x="256.7" y="760" textLength="49.3" lengthAdjust="spacingAndGlyphs">10 Jun 2020</text>
<rect x="321" y="748" width="1" height="3" fill="#000"/>
<text class="ax" x="320.7" y="760" textLength="49.3" lengthAdjust="spacingAndGlyphs">29 Jun 2020</text>
<rect x="385" y="748" width="1" height="3" fill="#000"/>
<text class="ax" x="384.7" y="760" textLength="46.7" lengthAdjust="spacingAndGlyphs">17 Jul 2020</text>
<rect x="449" y="748" width="1" height="3" fill="#000"/>
<text class="ax" x="448.7" y="760" textLength="47.7" lengthAdjust="spacingAndGlyphs">5 Aug 2020</text>
<rect x="513" y="748" width="1" height="3" fill="#000"/>
<text class="ax" x="512.7" y="760" textLength="52.3" lengthAdjust="spacingAndGlyphs">24 Aug 2020</text>
<rect x="577" y="748" width="1" height="3" fill="#000"/>
<text class="ax" x="576.7" y="760" textLength="51.3" lengthAdjust="spacingAndGlyphs">11 Sep 2020</text>
<rect x="641" y="748" width="1" height="3" fill="#000"/>
<text class="ax" x="640.7" y="760" textLength="52.0" lengthAdjust="spacingAndGlyphs">30 Sep 2020</text>
<rect x="705" y="748" width="1" height="3" fill="#000"/>
<text class="ax" x="704.7" y="760" textLength="50.7" lengthAdjust="spacingAndGlyphs">19 Oct 2020</text>
<rect x="769" y="748" width="1" height="3" fill="#000"/>
<text class="ax" x="768.7" y="760" textLength="48.4" lengthAdjust="spacingAndGlyphs">6 Nov 2020</text>
<rect x="833" y="748" width="1" height="3" fill="#000"/>
<text class="ax" x="832.7" y="760" textLength="53.4" lengthAdjust="spacingAndGlyphs">25 Nov 2020</text>
<rect x="897" y="748" width="1" height="3" fill="#000"/>
<text class="ax" x="896.7" y="760" textLength="51.4" lengthAdjust="spacingAndGlyphs">14 Dec 2020</text>
<rect x="961" y="748" width="1" height="3" fill="#000"/>
<text class="ax" x="960.7" y="760" textLength="44.0" lengthAdjust="spacingAndGlyphs">4 Jan 2021</text>
<rect x="1025" y="748" width="1" height="3" fill="#000"/>
<text class="ax" x="1024.7" y="760" textLength="49.0" lengthAdjust="spacingAndGlyphs">22 Jan 2021</text>
<rect x="1089" y="748" width="1" height="3" fill="#000"/>
<text class="ax" x="1088.7" y="760" textLength="51.4" lengthAdjust="spacingAndGlyphs">10 Feb 2021</text>
<rect x="1153" y="748" width="1" height="3" fill="#000"/>
<text class="ax" x="1152.7" y="760" textLength="46.4" lengthAdjust="spacingAndGlyphs">1 Mar 2021</text>
<rect x="1217" y="748" width="1" height="3" fill="#000"/>
<text class="ax" x="1216.7" y="760" textLength="51.4" lengthAdjust="spacingAndGlyphs">19 Mar 2021</text>
<rect x="0" y="768" width="1620" height="1" fill="#e3e3e3"/>
<rect x="0" y="769" width="1620" height="23" fill="#f0f0f0"/>
<rect x="107" y="769" width="98" height="20" fill="#ffffff"/>
<rect x="0" y="770" width="107" height="1" fill="#000"/>
<rect x="106" y="770" width="1" height="19" fill="#000"/>
<rect x="106" y="788" width="100" height="1" fill="#000"/>
<rect x="205" y="770" width="1" height="19" fill="#000"/>
<rect x="205" y="770" width="1415" height="1" fill="#000"/>
<rect x="0" y="790" width="1620" height="2" fill="#f7f7f7"/>
<text class="tab" x="13.5" y="785" textLength="81.1" lengthAdjust="spacingAndGlyphs">EURUSD,Daily</text>
<text class="taba" x="115.7" y="785" textLength="79.8" lengthAdjust="spacingAndGlyphs">USDCHF,Daily</text>
<text class="tab" x="215.89999999999998" y="785" textLength="83.5" lengthAdjust="spacingAndGlyphs">AUDUSD,Daily</text>
<text class="tab" x="320.2" y="785" textLength="81.9" lengthAdjust="spacingAndGlyphs">USDCAD,Daily</text>
<text class="tab" x="423.2" y="785" textLength="84.2" lengthAdjust="spacingAndGlyphs">USDCNH,Daily</text>
<text class="tab" x="529.2" y="785" textLength="81.2" lengthAdjust="spacingAndGlyphs">EURUSD,Daily</text>
<text class="tab" x="633.5" y="785" textLength="80.9" lengthAdjust="spacingAndGlyphs">GBPUSD,Daily</text>
<text class="tab" x="735.9000000000001" y="785" textLength="82.8" lengthAdjust="spacingAndGlyphs">XAUUSD,Daily</text>
<text class="tab" x="841.2" y="785" textLength="60.9" lengthAdjust="spacingAndGlyphs">HK50,M15</text>
<text class="tab" x="924.5" y="785" textLength="57.6" lengthAdjust="spacingAndGlyphs">UK100,H1</text>
<text class="tab" x="1004.2" y="785" textLength="57.5" lengthAdjust="spacingAndGlyphs">UK100,H1</text>
<text class="tab" x="1084.2" y="785" textLength="57.9" lengthAdjust="spacingAndGlyphs">GER30,H1</text>
<text class="tab" x="1163.2" y="785" textLength="55.5" lengthAdjust="spacingAndGlyphs">FRA40,H1</text>
<text class="tab" x="1239.5" y="785" textLength="51.6" lengthAdjust="spacingAndGlyphs">USOil,H1</text>
<text class="tab" x="1311.5" y="785" textLength="63.6" lengthAdjust="spacingAndGlyphs">USDJPY,H1</text>
<text class="tab" x="1396.2" y="785" textLength="74.2" lengthAdjust="spacingAndGlyphs">DJ30,Weekly</text>
<text class="tab" x="1491.5" y="785" textLength="79.6" lengthAdjust="spacingAndGlyphs">CHINA300,H1</text>
<rect x="310" y="774" width="1" height="13" fill="#8a8a8a"/>
<rect x="414" y="774" width="1" height="13" fill="#8a8a8a"/>
<rect x="518" y="774" width="1" height="13" fill="#8a8a8a"/>
<rect x="622" y="774" width="1" height="13" fill="#8a8a8a"/>
<rect x="726" y="774" width="1" height="13" fill="#8a8a8a"/>
<rect x="830" y="774" width="1" height="13" fill="#8a8a8a"/>
<rect x="914" y="774" width="1" height="13" fill="#8a8a8a"/>
<rect x="994" y="774" width="1" height="13" fill="#8a8a8a"/>
<rect x="1074" y="774" width="1" height="13" fill="#8a8a8a"/>
<rect x="1154" y="774" width="1" height="13" fill="#8a8a8a"/>
<rect x="1230" y="774" width="1" height="13" fill="#8a8a8a"/>
<rect x="1302" y="774" width="1" height="13" fill="#8a8a8a"/>
<rect x="1386" y="774" width="1" height="13" fill="#8a8a8a"/>
<rect x="1482" y="774" width="1" height="13" fill="#8a8a8a"/>
<rect x="1582" y="774" width="1" height="13" fill="#8a8a8a"/>
<path d="M1597 776.5 L1597 783.5 L1593.5 780 Z" fill="#a0a0a0" shape-rendering="geometricPrecision"/>
<path d="M1611.5 776.5 L1611.5 783.5 L1615 780 Z" fill="#000" shape-rendering="geometricPrecision"/>
</svg></body></html>
